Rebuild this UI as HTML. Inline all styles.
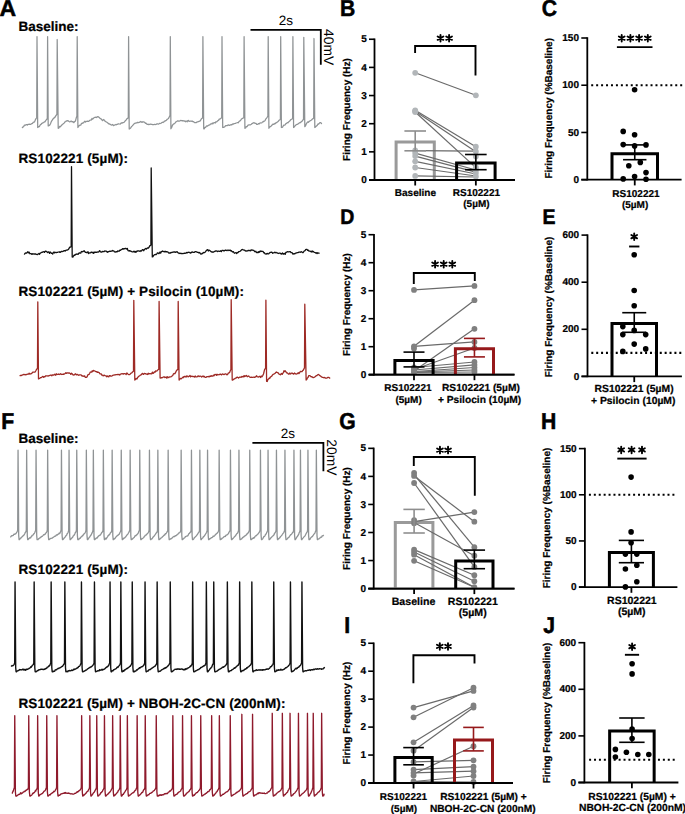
<!DOCTYPE html>
<html><head><meta charset="utf-8"><style>
html,body{margin:0;padding:0;background:#fff;}
svg{display:block;font-family:"Liberation Sans", sans-serif;text-rendering:geometricPrecision;}
</style></head><body>
<svg width="685" height="814" viewBox="0 0 685 814">
<rect width="685" height="814" fill="#fff"/>
<text transform="translate(-0.4 15.5) scale(1.0 1)" x="0" y="0" font-size="23.0" font-weight="bold" fill="#000" stroke="#000" stroke-width="0.55">A</text>
<text transform="translate(340.05 15.9) scale(0.92 1)" x="0" y="0" font-size="23.0" font-weight="bold" fill="#000" stroke="#000" stroke-width="0.55">B</text>
<text transform="translate(541.7 15.8) scale(0.92 1)" x="0" y="0" font-size="23.0" font-weight="bold" fill="#000" stroke="#000" stroke-width="0.55">C</text>
<text transform="translate(340.37 223.8) scale(0.92 1)" x="0" y="0" font-size="21.2" font-weight="bold" fill="#000" stroke="#000" stroke-width="0.55">D</text>
<text transform="translate(542.47 223.8) scale(0.92 1)" x="0" y="0" font-size="21.2" font-weight="bold" fill="#000" stroke="#000" stroke-width="0.55">E</text>
<text transform="translate(1.35 428.6) scale(0.92 1)" x="0" y="0" font-size="23.0" font-weight="bold" fill="#000" stroke="#000" stroke-width="0.55">F</text>
<text transform="translate(339.2 428.6) scale(0.92 1)" x="0" y="0" font-size="23.0" font-weight="bold" fill="#000" stroke="#000" stroke-width="0.55">G</text>
<text transform="translate(541.05 428.6) scale(0.92 1)" x="0" y="0" font-size="23.0" font-weight="bold" fill="#000" stroke="#000" stroke-width="0.55">H</text>
<text transform="translate(344.15 633) scale(0.92 1)" x="0" y="0" font-size="23.0" font-weight="bold" fill="#000" stroke="#000" stroke-width="0.55">I</text>
<text transform="translate(543.35 633.4) scale(0.92 1)" x="0" y="0" font-size="23.0" font-weight="bold" fill="#000" stroke="#000" stroke-width="0.55">J</text>
<text x="18.5" y="31.1" font-size="13.5" font-weight="bold" text-anchor="start" fill="#000" stroke="#000" stroke-width="0.22">Baseline:</text>
<text x="18.5" y="162.6" font-size="13.5" font-weight="bold" text-anchor="start" fill="#000" stroke="#000" stroke-width="0.22" textLength="109.4">RS102221 (5µM):</text>
<text x="18.5" y="296.4" font-size="13.5" font-weight="bold" text-anchor="start" fill="#000" stroke="#000" stroke-width="0.22" textLength="225.4">RS102221 (5µM) + Psilocin (10µM):</text>
<text x="18.5" y="442.8" font-size="13.5" font-weight="bold" text-anchor="start" fill="#000" stroke="#000" stroke-width="0.22">Baseline:</text>
<text x="18.5" y="574.1" font-size="13.5" font-weight="bold" text-anchor="start" fill="#000" stroke="#000" stroke-width="0.22" textLength="109.4">RS102221 (5µM):</text>
<text x="18.5" y="707.9" font-size="13.5" font-weight="bold" text-anchor="start" fill="#000" stroke="#000" stroke-width="0.22" textLength="266.9">RS102221 (5µM) + NBOH-2C-CN (200nM):</text>
<path d="M250.5 29.9 H320.8 V64.8" fill="none" stroke="#000" stroke-width="1.8"/>
<text x="286" y="24.6" font-size="13.5" font-weight="normal" text-anchor="middle" fill="#000">2s</text>
<text x="324" y="47.1" font-size="13.8" font-weight="normal" text-anchor="middle" fill="#000" transform="rotate(90 324 47.1)">40mV</text>
<path d="M252.4 442.8 H323.4 V471.3" fill="none" stroke="#000" stroke-width="1.8"/>
<text x="288" y="438" font-size="13.5" font-weight="normal" text-anchor="middle" fill="#000">2s</text>
<text x="326.6" y="457.4" font-size="13.8" font-weight="normal" text-anchor="middle" fill="#000" transform="rotate(90 326.6 457.4)">20mV</text>
<path d="M22.4 127.5 L23 126.93 L23.6 126.68 L24.2 125.42 L24.8 125.1 L25.44 125.24 L26.08 124.7 L26.72 124.54 L27.36 125.03 L28 124.3 L28.64 124.29 L29.28 124.17 L29.92 124.34 L30.56 124.4 L31.2 124 L31.86 123.57 L32.52 123.34 L33.18 122.45 L33.84 122.21 L34.5 121.9 L35.25 120.12 L36 118.6 L36.7 117.8 L37 36.6 L37.7 127.5 L38.5 126.7 L39.3 126.7 L39.9 125.45 L40.5 124.61 L41.1 124.23 L41.7 123.5 L42.34 123.13 L42.98 122.76 L43.62 122.56 L44.26 121.82 L44.9 121.9 L45.7 120.68 L46.5 119.5 L47.3 118.7 L47.6 36.6 L48.2 125.9 L48.95 125.57 L49.7 125.1 L50.5 123.73 L51.3 121.65 L52.1 120.3 L52.74 119.52 L53.38 118.38 L54.02 118.17 L54.66 117 L55.3 117 L55.9 115.57 L56.5 115 L56.9 114.2 L57.2 39.5 L58.2 128.3 L58.9 128.03 L59.6 126.44 L60.3 126.74 L61 125.9 L61.67 125.33 L62.33 124.47 L63 124.04 L63.67 123.39 L64.33 122.88 L65 121.9 L65.6 121.53 L66.2 121.12 L66.8 120.82 L67.4 120.7 L68.2 120.8 L69 121.49 L69.8 121.9 L70.6 121.26 L71.4 121.1 L72.2 121.95 L73 121.61 L73.8 122.7 L74.6 121.57 L75.4 121.1 L76.5 117 L76.9 116.2 L77.2 36.6 L77.9 127.5 L78.67 126.41 L79.43 125.27 L80.2 125.1 L80.87 125.14 L81.53 123.31 L82.2 123.42 L82.87 122.81 L83.53 122.93 L84.2 121.9 L84.89 121.19 L85.57 121.99 L86.26 121.34 L86.94 121.4 L87.63 121.13 L88.31 121.41 L89 121.1 L89.61 120.35 L90.22 120.25 L90.84 119.97 L91.45 120 L92.06 118.32 L92.68 119.08 L93.29 118.5 L93.9 117.8 L94.57 117.45 L95.23 117.49 L95.9 117.06 L96.57 117.49 L97.23 116.86 L97.9 116.6 L98.57 117.07 L99.23 117.6 L99.9 118.14 L100.57 118.68 L101.23 119 L101.9 119.8 L102.54 120.68 L103.18 119.75 L103.82 119.5 L104.46 120.8 L105.1 121.1 L105.7 121.46 L106.3 122.01 L106.9 122.24 L107.5 122.66 L108.1 123.2 L108.7 123.79 L109.3 123.77 L109.9 124.3 L110.59 124.3 L111.27 125.11 L111.96 124.8 L112.64 124.46 L113.33 125.57 L114.01 125.22 L114.7 125.1 L115.31 124.79 L115.92 124.47 L116.54 124.78 L117.15 124.3 L117.76 124.1 L118.38 123.89 L118.99 123.99 L119.6 124 L120.2 124.07 L120.8 123.34 L121.4 122.78 L122 123.15 L122.6 122.71 L123.2 122.68 L123.8 122.52 L124.4 121.9 L125 121.17 L125.6 120.5 L126.2 119.85 L126.8 118.84 L127.4 118.5 L128.3 117.7 L128.6 36.6 L129.2 129.1 L129.93 128.5 L130.67 127.91 L131.4 126.7 L132.04 126.11 L132.68 125.35 L133.32 124.7 L133.96 123.91 L134.6 123.5 L135.21 123.11 L135.82 123.08 L136.44 122.8 L137.05 122.77 L137.66 122.28 L138.28 122.71 L138.89 122.46 L139.5 122.3 L140.17 121.89 L140.83 121.48 L141.5 122.1 L142.17 122.36 L142.83 121.75 L143.5 121.9 L144.17 122.16 L144.83 122.53 L145.5 123.3 L146.17 123.23 L146.83 124.2 L147.5 124.3 L148.14 124.24 L148.78 124.64 L149.42 124.4 L150.06 124.35 L150.7 124.01 L151.34 124.27 L151.98 124.43 L152.62 124.74 L153.26 124.64 L153.9 124.6 L154.54 124.28 L155.18 124.5 L155.82 124.57 L156.46 124.12 L157.1 123.92 L157.74 123.82 L158.38 124.07 L159.02 123.88 L159.66 123.33 L160.3 123.5 L160.99 123.27 L161.67 122.67 L162.36 122.25 L163.04 122.5 L163.73 122.03 L164.41 121.23 L165.1 121.1 L165.76 120.62 L166.42 120.25 L167.08 119.41 L167.74 119.06 L168.4 118.6 L169.6 116.2 L170 115.4 L170.3 36.6 L170.9 128.8 L171.67 127.5 L172.43 125.26 L173.2 124.3 L173.87 123.86 L174.53 123.45 L175.2 122.85 L175.87 121.76 L176.53 121.73 L177.2 121.1 L177.87 120.76 L178.53 121.1 L179.2 121.03 L179.87 120.83 L180.53 120.45 L181.2 120.6 L181.8 120.49 L182.4 120.98 L183 120.52 L183.6 121 L184.2 121.07 L184.8 120.89 L185.4 121.76 L186 121.1 L186.6 121.12 L187.2 121.74 L187.8 120.5 L188.4 120.43 L189 121.39 L189.6 121.29 L190.2 121.01 L190.8 121.1 L191.41 121.28 L192.03 120.93 L192.64 121.51 L193.25 121.59 L193.86 122.03 L194.47 122.57 L195.09 122.52 L195.7 122.7 L196.37 122.54 L197.03 121.96 L197.7 121.77 L198.37 121.67 L199.03 121.28 L199.7 121.1 L200.4 120.65 L201.1 119.17 L201.8 118.6 L202.6 117.8 L202.9 36.6 L203.7 128.8 L204.34 128.79 L204.98 127.35 L205.62 127.38 L206.26 126.25 L206.9 125.9 L207.59 126.11 L208.27 125.37 L208.96 125.16 L209.64 124.98 L210.33 124.28 L211.01 123.87 L211.7 123.9 L212.3 123.04 L212.9 123.77 L213.5 122.94 L214.1 122.72 L214.7 122.64 L215.3 123 L215.9 121.63 L216.5 121.9 L217.18 121.42 L217.87 120.68 L218.55 120.41 L219.23 119.16 L219.92 119.03 L220.6 118.6 L221.7 117.8 L222 36.6 L222.7 127.5 L223.38 127.35 L224.05 127.17 L224.72 126.78 L225.4 125.9 L226.06 125.53 L226.71 125.69 L227.37 125.52 L228.03 125.03 L228.69 124.9 L229.34 125.44 L230 125.1 L230.6 124.97 L231.2 124.66 L231.8 124.86 L232.4 124 L233 124.26 L233.6 123.9 L234.2 123.68 L234.8 123.5 L235.47 123.38 L236.13 123.02 L236.8 122.78 L237.47 122.51 L238.13 122.75 L238.8 121.9 L239.44 121.15 L240.08 120.88 L240.72 120.1 L241.36 119.16 L242 118.6 L243.8 117.8 L244.1 36.6 L244.9 128.3 L245.6 127.86 L246.3 126.69 L247 126.62 L247.7 125.6 L248.3 125.09 L248.9 124.93 L249.5 124.91 L250.1 124.8 L250.7 124.56 L251.3 124.29 L251.9 123.7 L252.5 123.5 L253.3 122.81 L254.1 122.7 L254.74 123.18 L255.38 123.43 L256.02 123.37 L256.66 124.27 L257.3 124.3 L257.97 124.14 L258.63 123.58 L259.3 123.78 L259.97 123.04 L260.63 122.95 L261.3 123 L261.94 122.74 L262.58 121.77 L263.22 121.87 L263.86 121.07 L264.5 121.1 L265.2 120.3 L265.9 118.83 L266.6 118.08 L267.3 117 L267.9 116.2 L268.2 36.6 L268.9 128.3 L269.62 127.05 L270.35 126.6 L271.07 126.18 L271.8 125.1 L272.4 124.94 L273 123.95 L273.6 124.48 L274.2 124.17 L274.8 123.49 L275.4 123.73 L276 122.68 L276.6 122.7 L277.4 121.87 L278.2 121.43 L279 120.3 L280.4 119.5 L280.7 36.6 L281.4 127.5 L282.04 127.41 L282.68 126.92 L283.32 125.73 L283.96 125.05 L284.6 125.1 L285.27 124.68 L285.93 123.6 L286.6 123.46 L287.27 122.58 L287.93 122.75 L288.6 121.9 L289.4 121.34 L290.2 120.47 L291 119.5 L292.6 118.7 L292.9 36.6 L293.6 127.5 L294.33 126.71 L295.07 125.91 L295.8 125.1 L296.48 124.61 L297.17 124.42 L297.85 123.97 L298.53 123.64 L299.22 122.97 L299.9 122.7 L300.57 122.67 L301.25 121.58 L301.93 121.32 L302.6 120.3 L303.5 119.5 L303.8 37.3 L304.8 126.7 L305.57 125.77 L306.33 123.77 L307.1 122.7 L307.77 121.79 L308.43 122.28 L309.1 121.38 L309.77 121.12 L310.43 120.62 L311.1 120.3 L311.8 119.77 L312.5 118.81 L313.2 118.6 L313.7 117.8 L314 38.5 L314.8 127.5 L315.43 126.94 L316.07 126.29 L316.7 125.9 L317.34 125.26 L317.98 123.92 L318.62 124.23 L319.26 123.44 L319.9 122.7 L320.7 122.58 L321.5 123.5" fill="none" stroke="#8f9395" stroke-width="1.25" stroke-linejoin="round" stroke-linecap="round"/>
<path d="M24.5 254.1 L25.18 253.23 L25.85 252.84 L26.52 253.17 L27.2 252.5 L27.87 251.78 L28.53 252.84 L29.2 252.2 L29.87 253.74 L30.53 253.58 L31.2 253.7 L31.83 254.33 L32.47 253.68 L33.1 254.13 L33.73 253.94 L34.37 253.85 L35 254.29 L35.63 253.82 L36.27 254.27 L36.9 254.5 L37.57 254.5 L38.23 253.96 L38.9 253.49 L39.57 254.24 L40.23 253.11 L40.9 252.8 L41.5 252.37 L42.1 252.46 L42.7 251.99 L43.3 251.85 L43.9 251.66 L44.5 252.41 L45.1 251.41 L45.7 251.2 L46.34 251.47 L46.98 251.87 L47.62 252.61 L48.26 251.91 L48.9 251.95 L49.54 253.39 L50.18 252.02 L50.82 252.65 L51.46 253.27 L52.1 253.2 L52.74 253.99 L53.38 252.58 L54.02 251.87 L54.66 252.98 L55.3 252.39 L55.94 252.33 L56.58 252.54 L57.22 252.33 L57.86 252.24 L58.5 252 L59.11 251.73 L59.73 252.32 L60.34 252.3 L60.95 251.61 L61.56 251.32 L62.17 251.69 L62.79 251.49 L63.4 251.2 L64 250.58 L64.6 250.62 L65.2 251.02 L65.8 250.36 L66.4 250.07 L67 250.08 L67.6 249.79 L68.2 249.6 L68.9 248.8 L69.6 247.23 L70.3 247.2 L71.2 246.4 L71.5 166.6 L72.2 256.9 L72.84 257.12 L73.48 256.02 L74.12 255.11 L74.76 255.37 L75.4 254.5 L76.07 254.34 L76.73 253.94 L77.4 254.07 L78.07 254.27 L78.73 253.3 L79.4 252.8 L80.07 253.17 L80.73 253.13 L81.4 251.59 L82.07 251.52 L82.73 251.78 L83.4 251.2 L84.07 250.73 L84.73 251.53 L85.4 252.37 L86.07 252.48 L86.73 252.52 L87.4 252.5 L88.01 251.78 L88.62 253.52 L89.24 252.83 L89.85 252.96 L90.46 252.89 L91.08 252.04 L91.69 252.19 L92.3 252.8 L92.99 252.2 L93.67 253.34 L94.36 252.12 L95.04 252.25 L95.73 252.13 L96.41 252.34 L97.1 252 L97.74 252.16 L98.38 252.03 L99.02 251.38 L99.66 250.58 L100.3 251.87 L100.94 251.87 L101.58 252.21 L102.22 251.64 L102.86 251.4 L103.5 251.6 L104.14 251.72 L104.78 250.9 L105.42 251.06 L106.06 251.04 L106.7 251.52 L107.34 252.2 L107.98 251.63 L108.62 251.74 L109.26 251.34 L109.9 251.2 L110.55 251.35 L111.2 251.1 L111.85 251.21 L112.5 250.39 L113.15 250.92 L113.8 250.93 L114.45 251.81 L115.1 251.79 L115.75 252.02 L116.4 251.6 L117.09 251.94 L117.77 250.91 L118.46 251.17 L119.14 251.24 L119.83 250.17 L120.51 250.32 L121.2 249.6 L121.89 249.36 L122.57 248.61 L123.26 249.13 L123.94 248.59 L124.63 248.79 L125.31 248.39 L126 248.4 L126.67 248.99 L127.33 248.48 L128 250.63 L128.67 250.81 L129.33 250.59 L130 251.2 L130.66 250.95 L131.31 251.43 L131.97 251.81 L132.63 251.83 L133.29 251.93 L133.94 251.1 L134.6 252 L135.21 251.45 L135.82 252.34 L136.44 251.8 L137.05 250.99 L137.66 251.15 L138.28 250.82 L138.89 250.89 L139.5 251.2 L140.1 251.47 L140.7 250.71 L141.3 251.05 L141.9 250.48 L142.5 249.59 L143.1 249.74 L143.7 250.73 L144.3 249.6 L144.99 248.95 L145.67 248.49 L146.36 249.07 L147.04 248.27 L147.73 247.88 L148.41 248.14 L149.1 247.2 L149.75 245.68 L150.4 245.6 L150.9 244.8 L151.2 168 L152.3 256.9 L152.94 256.59 L153.58 255.51 L154.22 254.89 L154.86 254.65 L155.5 254.5 L156.14 254.68 L156.78 253.86 L157.42 252.88 L158.06 252.89 L158.7 253.67 L159.34 253.18 L159.98 252.02 L160.62 253.17 L161.26 251.74 L161.9 251.6 L162.54 251.03 L163.18 251.38 L163.82 251.74 L164.46 251.94 L165.1 251.2 L165.78 251.95 L166.47 251.69 L167.15 251.97 L167.83 251.94 L168.52 252.84 L169.2 253.2 L169.8 252.86 L170.4 253.1 L171 252.38 L171.6 252.59 L172.2 252.34 L172.8 252.11 L173.4 252.02 L174 251.98 L174.6 251.82 L175.2 252.43 L175.8 252.14 L176.4 252 L177.09 251.7 L177.77 252.7 L178.46 252.85 L179.14 253.57 L179.83 253.13 L180.51 253.37 L181.2 253.7 L181.82 253.33 L182.43 253.57 L183.05 253.62 L183.66 253.4 L184.28 253.13 L184.89 253.38 L185.51 253.09 L186.12 253.06 L186.74 252.49 L187.35 252.86 L187.97 252.28 L188.58 252.25 L189.2 252.5 L189.85 252.48 L190.5 253.18 L191.15 252.64 L191.8 252.14 L192.45 251.98 L193.1 252.36 L193.75 252.44 L194.4 252.28 L195.05 251.61 L195.7 251.6 L196.32 251.95 L196.94 252.02 L197.57 252.32 L198.19 252.36 L198.81 252.89 L199.43 252.39 L200.06 253.05 L200.68 254 L201.3 254.1 L201.97 253.37 L202.63 253.62 L203.3 252.52 L203.97 252.55 L204.63 252.51 L205.3 252 L206.1 250.78 L206.9 250.11 L207.7 249.6 L208.37 251.01 L209.03 250.12 L209.7 250.51 L210.37 250.97 L211.03 251.61 L211.7 252 L212.34 251.91 L212.98 252.24 L213.62 252.08 L214.26 251.51 L214.9 251.45 L215.54 250.94 L216.18 250.83 L216.82 251.06 L217.46 251.58 L218.1 251.2 L218.75 251.17 L219.4 251.37 L220.05 251.35 L220.7 250.81 L221.35 251.66 L222 250.51 L222.65 250.38 L223.3 250.38 L223.95 250.95 L224.6 250.4 L225.2 250.3 L225.8 250.01 L226.4 250.44 L227 250.69 L227.6 250.13 L228.2 250.03 L228.8 250.53 L229.4 250.45 L230 250 L230.67 250.85 L231.33 250.62 L232 251.52 L232.67 252.01 L233.33 251.6 L234 252.8 L234.67 253.24 L235.33 252.74 L236 252.51 L236.67 253.53 L237.33 252.61 L238 252.5 L238.67 251.72 L239.33 251.51 L240 251.28 L240.67 250.9 L241.33 250.06 L242 249.6 L242.68 249.51 L243.37 249.85 L244.05 250.07 L244.73 250.24 L245.42 250.93 L246.1 251.2 L246.74 250.88 L247.38 250.98 L248.02 250.5 L248.66 250.37 L249.3 250.52 L249.94 250.34 L250.58 250.83 L251.22 249.87 L251.86 250.2 L252.5 250 L253.17 250.4 L253.83 250.3 L254.5 251.55 L255.17 251.74 L255.83 251.23 L256.5 252.5 L257.1 252.58 L257.7 252.56 L258.3 251.69 L258.9 252.54 L259.5 251.75 L260.1 251.05 L260.7 251.59 L261.3 251.2 L261.9 251.42 L262.5 251.38 L263.1 251.41 L263.7 252.75 L264.3 252.71 L264.9 253.64 L265.5 253.9 L266.1 254.1 L266.77 253.62 L267.43 253.35 L268.1 254.02 L268.77 253.73 L269.43 253.07 L270.1 252.5 L270.75 252.38 L271.4 252.16 L272.05 252.43 L272.7 253.3 L273.35 252.84 L274 252.56 L274.65 252.21 L275.3 252.81 L275.95 252.41 L276.6 252.8 L277.25 252.89 L277.91 253.27 L278.56 253.48 L279.22 253.18 L279.87 253.07 L280.53 253.38 L281.18 254.11 L281.84 253.61 L282.49 252.97 L283.15 254.25 L283.8 253.7 L284.47 253.45 L285.13 254.42 L285.8 252.46 L286.47 252.26 L287.13 251.83 L287.8 251.6 L288.44 251.96 L289.08 251.78 L289.72 251.63 L290.36 251.66 L291 252.6 L291.64 252.65 L292.28 252.83 L292.92 254.14 L293.56 253.81 L294.2 253.7 L294.81 253.93 L295.43 253.07 L296.04 253.18 L296.65 252.76 L297.26 252.55 L297.88 252.73 L298.49 252.46 L299.1 252 L299.77 252.21 L300.43 252.23 L301.1 251.66 L301.77 252.03 L302.43 252.57 L303.1 252.5 L303.74 251.71 L304.38 250.9 L305.02 250.72 L305.66 249.57 L306.3 249.3 L306.97 249.34 L307.63 250.29 L308.3 250.1 L308.97 251.15 L309.63 251.1 L310.3 251.2 L310.9 251.69 L311.5 251.98 L312.1 250.81 L312.7 251.82 L313.3 251.49 L313.9 251.99 L314.5 252.3 L315.1 252.5 L315.77 253.12 L316.43 252.72 L317.1 253.52 L317.77 252.75 L318.43 253.06 L319.1 253.2" fill="none" stroke="#111" stroke-width="1.3" stroke-linejoin="round" stroke-linecap="round"/>
<path d="M20.1 375.7 L20.74 375.43 L21.39 375.56 L22.03 375.1 L22.67 374.89 L23.31 374.47 L23.96 374.59 L24.6 374.5 L25.25 374.85 L25.9 374.49 L26.55 374.64 L27.2 374.24 L27.85 374.21 L28.5 374.03 L29.15 373.2 L29.8 374.12 L30.45 373.89 L31.1 373.6 L31.77 373.53 L32.43 372.39 L33.1 372.1 L33.77 372.18 L34.43 372.08 L35.1 372 L35.85 370.72 L36.6 369.2 L37.5 368.4 L37.8 301.8 L38.5 378.9 L39.13 378.53 L39.77 378.41 L40.4 377.59 L41.03 377.62 L41.67 377.31 L42.3 376.8 L42.94 376.43 L43.58 377.27 L44.22 376.69 L44.86 376.84 L45.5 376 L46.14 375.84 L46.78 375.89 L47.42 375.88 L48.06 376.06 L48.7 375.7 L49.32 375.71 L49.95 375.34 L50.57 375.04 L51.19 375.12 L51.82 375.73 L52.44 374.82 L53.06 375.15 L53.68 375.13 L54.31 374.27 L54.93 374.8 L55.55 375.21 L56.18 373.79 L56.8 374.5 L57.44 374.32 L58.08 374.36 L58.72 374.02 L59.36 374.5 L60 374.23 L60.64 373.61 L61.28 374.48 L61.92 374.37 L62.56 374.43 L63.2 374 L63.87 374.39 L64.53 373.78 L65.2 373.5 L65.87 372.75 L66.53 373.33 L67.2 372.9 L67.8 372.81 L68.4 373.04 L69 372.87 L69.6 373.15 L70.2 373.48 L70.8 374.37 L71.4 373.2 L72 373.58 L72.6 374.42 L73.2 375.06 L73.8 374.87 L74.4 374.8 L75.04 374.04 L75.68 373.79 L76.32 374.94 L76.96 374.51 L77.6 374.35 L78.24 375.19 L78.88 375.24 L79.52 374.86 L80.16 374.9 L80.8 374.8 L81.43 375.25 L82.07 375.99 L82.7 375.88 L83.33 376.12 L83.97 376.41 L84.6 375.84 L85.23 377.26 L85.87 377.4 L86.5 377.3 L87.14 376.69 L87.78 374.87 L88.42 374.59 L89.06 374.36 L89.7 373.2 L90.32 372.01 L90.93 372.19 L91.55 372.21 L92.17 370.81 L92.78 371.51 L93.4 370.4 L94.04 370.87 L94.68 370.84 L95.31 371.28 L95.95 371.66 L96.59 371.7 L97.22 372.36 L97.86 371.89 L98.5 372.4 L99.17 372.7 L99.83 373.75 L100.5 373.81 L101.17 373.91 L101.83 375.11 L102.5 375.2 L103.12 375.93 L103.74 375.31 L104.37 375.08 L104.99 375.72 L105.61 375.86 L106.23 375.95 L106.86 376.77 L107.48 375.94 L108.1 376.5 L108.75 376.83 L109.4 375.65 L110.05 375.68 L110.7 376.07 L111.35 376.1 L112 375.82 L112.65 375.45 L113.3 375.2 L113.95 375.03 L114.6 374.8 L115.24 374.95 L115.88 374.57 L116.52 374.67 L117.16 374.71 L117.8 374.4 L118.44 374.63 L119.08 374.47 L119.72 374.96 L120.36 374.21 L121 374 L121.63 373.76 L122.27 373.72 L122.9 373.79 L123.53 374.1 L124.17 373.53 L124.8 373.6 L125.49 373.88 L126.17 374.59 L126.86 372.96 L127.54 373.66 L128.23 374.34 L128.91 374.53 L129.6 374.5 L130.32 373.97 L131.05 373.08 L131.78 372.89 L132.5 372 L133.5 371.2 L133.8 300.3 L134.8 380 L135.53 379.44 L136.25 378.44 L136.97 378.95 L137.7 377.3 L138.34 376.94 L138.98 376.08 L139.62 375.76 L140.26 375.21 L140.9 374.8 L141.57 374.57 L142.23 373.31 L142.9 374.01 L143.57 374.4 L144.23 373.33 L144.9 373.6 L145.57 373.64 L146.23 374.11 L146.9 374.14 L147.57 374.46 L148.23 373.25 L148.9 374 L149.59 373.7 L150.27 373.55 L150.96 373.78 L151.64 373.81 L152.33 372.14 L153.01 373.49 L153.7 372.9 L154.37 371.84 L155.03 372.21 L155.7 370.85 L156.37 371.04 L157.03 370.96 L157.7 370 L158.8 369.2 L159.1 301.5 L160.1 378.1 L160.78 377.82 L161.47 377.74 L162.15 377.77 L162.83 377.29 L163.52 376.98 L164.2 376.8 L164.87 377.5 L165.53 377.39 L166.2 376.93 L166.87 378.23 L167.53 376.76 L168.2 377.3 L168.84 377.51 L169.48 376.87 L170.12 376.87 L170.76 376.94 L171.4 376.5 L172.07 375.99 L172.73 375.56 L173.4 374.09 L174.07 373.5 L174.73 373.75 L175.4 372.9 L176.2 371.06 L177 370 L177.9 369.2 L178.2 301.5 L179.1 380 L179.8 379.05 L180.5 378.33 L181.2 378.89 L181.9 378.14 L182.6 377.3 L183.2 377.74 L183.8 376.62 L184.4 376.85 L185 376.24 L185.6 376.86 L186.2 377.04 L186.8 375.89 L187.4 376.1 L188.05 376.76 L188.7 376.58 L189.35 376.15 L190 375.47 L190.65 376.86 L191.3 376.3 L191.95 376.14 L192.6 376.58 L193.25 376.62 L193.9 376.5 L194.54 377.06 L195.18 376.01 L195.82 376.83 L196.46 376.93 L197.1 376.88 L197.74 376.19 L198.38 375.92 L199.02 376.59 L199.66 376.19 L200.3 376.1 L200.99 376.32 L201.67 377.01 L202.36 376.51 L203.04 375.87 L203.73 376.8 L204.41 376.39 L205.1 377.3 L205.74 377.47 L206.38 377.11 L207.02 376.58 L207.66 376.66 L208.3 376.83 L208.94 376.37 L209.58 376.71 L210.22 376 L210.86 376.28 L211.5 375.7 L212.15 376.21 L212.8 376.16 L213.45 375.16 L214.1 375.69 L214.75 374.5 L215.4 374.73 L216.05 374.28 L216.7 375.41 L217.35 374.4 L218 374.8 L218.6 374.69 L219.2 374.52 L219.8 374.49 L220.4 374.16 L221 374.39 L221.6 374.92 L222.2 374.12 L222.8 374 L223.49 374.28 L224.17 374.54 L224.86 374.14 L225.54 373.78 L226.23 374.13 L226.91 374.86 L227.6 374.5 L228.27 373.14 L228.93 372.86 L229.6 372.4 L230.6 370 L230.9 369.2 L231.2 299.7 L232.2 380 L232.84 380.02 L233.48 379.56 L234.12 378.86 L234.76 378.8 L235.4 378.1 L236.03 378.08 L236.67 377.45 L237.3 377.21 L237.93 377.49 L238.57 378.02 L239.2 377.34 L239.83 377.12 L240.47 377.08 L241.1 377.3 L241.7 376.54 L242.3 376.95 L242.9 376.38 L243.5 376.85 L244.1 375.61 L244.7 376.53 L245.3 375.99 L245.9 376.1 L246.59 375.49 L247.27 376.73 L247.96 376.5 L248.64 375.89 L249.33 376.61 L250.01 377.24 L250.7 377.3 L251.34 377.04 L251.98 377.45 L252.62 377.36 L253.26 377.25 L253.9 377.03 L254.54 377.35 L255.18 377 L255.82 376.84 L256.46 375.75 L257.1 376.5 L257.79 376.9 L258.47 377.11 L259.16 376.51 L259.84 376.48 L260.53 377.49 L261.21 376.05 L261.9 376.8 L262.7 375.59 L263.5 374 L264.7 369.2 L265.6 368.4 L265.9 300.2 L266.6 381.3 L267.25 381.47 L267.9 379.33 L268.55 379.18 L269.2 378.1 L269.84 378.27 L270.48 376.89 L271.12 376.58 L271.76 376.14 L272.4 375.2 L273.07 374.3 L273.73 374.1 L274.4 373.72 L275.07 373.4 L275.73 372.52 L276.4 372 L277.07 372.39 L277.73 372.53 L278.4 373.26 L279.07 374.22 L279.73 374.37 L280.4 374.8 L281 373.96 L281.6 373.46 L282.2 374.37 L282.8 373.26 L283.4 372.55 L284 370.76 L284.6 371.55 L285.2 370.8 L285.84 371.63 L286.48 372.75 L287.12 372.89 L287.76 373.33 L288.4 374 L289.07 374.08 L289.73 372.96 L290.4 374.01 L291.07 373.6 L291.73 373.05 L292.4 373.2 L293.08 373.86 L293.77 374.19 L294.45 373.04 L295.13 373.47 L295.82 373.98 L296.5 374 L297.1 373.77 L297.7 373.24 L298.3 372.71 L298.9 373.65 L299.5 372.91 L300.1 371.72 L300.7 371.36 L301.3 371.6 L301.98 371.56 L302.65 370.55 L303.32 370.15 L304 368.7 L304.5 367.9 L304.8 304.2 L306.1 380 L306.74 379.46 L307.38 377.93 L308.02 377.52 L308.66 375.7 L309.3 375.7 L309.97 375.73 L310.63 376.34 L311.3 376.91 L311.97 376.74 L312.63 377.32 L313.3 377.7 L313.9 377.48 L314.5 377.05 L315.1 376.76 L315.7 376.18 L316.3 375.57 L316.9 375.62 L317.5 374.92 L318.1 374.5 L318.78 374.64 L319.47 375.18 L320.15 375.9 L320.83 376.32 L321.52 376.9 L322.2 377.3 L322.84 377.46 L323.48 377.69 L324.12 377.73 L324.76 377.44 L325.4 378.1 L326.04 378.11 L326.68 378.2 L327.32 377.79 L327.96 377.38 L328.6 377.3 L329.7 378.1" fill="none" stroke="#9e2a25" stroke-width="1.3" stroke-linejoin="round" stroke-linecap="round"/>
<path d="M10.2 537 L10.7 536.94 L11.2 536.24 L11.7 535.73 L12.2 535.73 L12.7 535.55 L13.2 535.39 L13.7 534.49 L14.2 534.15 L14.7 534.31 L15.2 533.9 L15.7 533.77 L16.2 533.18 L16.7 532.33 L17.2 531.47 L17.7 530.3 L18.05 450.2 L18.7 535.6 L19.1 539.6 L19.5 539.6 L20.02 538.84 L20.55 538.19 L21.07 537.94 L21.59 537.38 L22.12 536.7 L22.64 536.19 L23.16 535.7 L23.68 535.2 L24.21 534.67 L24.73 533.76 L25.25 532.43 L25.78 532 L26.3 530.3 L26.65 450.2 L27.3 535.6 L27.7 539.6 L28.1 539.6 L28.61 538.74 L29.11 538.63 L29.62 537.94 L30.13 537.71 L30.63 537.99 L31.14 536.66 L31.65 536.39 L32.15 535.35 L32.66 535.1 L33.17 534.81 L33.67 534.06 L34.18 533.55 L34.69 532.74 L35.19 531.47 L35.7 530.3 L36.05 450.2 L36.7 535.6 L37.1 539.6 L37.5 539.6 L38.02 539.68 L38.53 538.71 L39.05 538.62 L39.56 538.06 L40.08 537.92 L40.59 537.14 L41.11 537.16 L41.63 536.49 L42.14 536.45 L42.66 535.91 L43.17 535.4 L43.69 534.77 L44.21 534.76 L44.72 534.26 L45.24 534.1 L45.75 533.07 L46.27 532.66 L46.78 531.76 L47.3 530.3 L47.65 450.2 L48.3 535.6 L48.7 539.6 L49.1 539.6 L49.6 539.34 L50.1 538.84 L50.6 538.43 L51.1 538.28 L51.6 538.23 L52.1 538.15 L52.6 537.72 L53.1 537.43 L53.6 537.06 L54.1 536.73 L54.6 536.3 L55.1 536.14 L55.6 536.09 L56.1 535.26 L56.6 534.86 L57.1 535.21 L57.6 534.47 L58.1 534.32 L58.6 533.95 L59.1 533.07 L59.6 533.51 L60.1 532.78 L60.6 531.58 L61.1 530.3 L61.45 450.2 L62.1 535.6 L62.5 539.6 L62.9 539.6 L63.43 539.12 L63.95 538.24 L64.48 537.69 L65.01 537.21 L65.54 536.42 L66.06 535.56 L66.59 535.15 L67.12 533.82 L67.65 533.29 L68.17 532.21 L68.7 530.3 L69.05 450.2 L69.7 535.6 L70.1 539.6 L70.5 539.6 L71.04 538.86 L71.57 538.33 L72.11 537.73 L72.65 537.31 L73.18 536 L73.72 535.55 L74.25 534.98 L74.79 533.98 L75.33 532.51 L75.86 532.14 L76.4 530.3 L76.75 450.2 L77.4 535.6 L77.8 539.6 L78.2 539.6 L78.72 539.69 L79.24 538.52 L79.76 538.19 L80.28 538.27 L80.8 537.32 L81.32 536.7 L81.84 536.57 L82.36 535.67 L82.88 535.64 L83.4 534.48 L83.92 533.98 L84.44 533.66 L84.96 533.08 L85.48 531.91 L86 530.3 L86.35 450.2 L87 535.6 L87.4 539.6 L87.8 539.6 L88.32 538.94 L88.84 537.98 L89.36 537.26 L89.88 536.79 L90.4 535.79 L90.92 535.27 L91.44 534.23 L91.96 533.13 L92.48 532.02 L93 530.3 L93.35 450.2 L94 535.6 L94.4 539.6 L94.8 539.6 L95.31 539.02 L95.83 538.63 L96.34 537.89 L96.85 538.18 L97.36 537.68 L97.88 536.81 L98.39 536.28 L98.9 535.63 L99.41 535.51 L99.92 535.05 L100.44 535.05 L100.95 534.03 L101.46 533.18 L101.97 532.05 L102.49 532.05 L103 530.3 L103.35 450.2 L104 535.6 L104.4 539.6 L104.8 539.6 L105.3 539.13 L105.8 538.15 L106.3 538.9 L106.8 537.79 L107.3 537.13 L107.8 536.41 L108.3 535.39 L108.8 535.35 L109.3 534.43 L109.8 534.37 L110.3 533.02 L110.8 532.54 L111.3 532.06 L111.8 530.3 L112.15 450.2 L112.8 535.6 L113.2 539.6 L113.6 539.6 L114.12 538.69 L114.64 538.78 L115.16 538.25 L115.69 537.26 L116.21 536.81 L116.73 536.29 L117.25 535.63 L117.77 535.22 L118.29 535.14 L118.81 534.41 L119.34 534.1 L119.86 532.78 L120.38 531.75 L120.9 530.3 L121.25 450.2 L121.9 535.6 L122.3 539.6 L122.7 539.6 L123.21 538.83 L123.71 538.11 L124.22 538.21 L124.73 537.87 L125.24 537.2 L125.74 536.79 L126.25 535.99 L126.76 535.2 L127.26 534.84 L127.77 534.13 L128.28 533.29 L128.79 532.36 L129.29 531.39 L129.8 530.3 L130.15 450.2 L130.8 535.6 L131.2 539.6 L131.6 539.6 L132.12 538.99 L132.64 538.98 L133.16 538.18 L133.68 537.8 L134.2 537.47 L134.72 536.47 L135.24 535.69 L135.76 535.87 L136.28 535.01 L136.8 534.98 L137.32 534.18 L137.84 533.73 L138.36 532.92 L138.88 531.22 L139.4 530.3 L139.75 450.2 L140.4 535.6 L140.8 539.6 L141.2 539.6 L141.73 538.92 L142.25 538.52 L142.78 538.33 L143.31 537.87 L143.83 537.42 L144.36 536.26 L144.89 536.04 L145.41 535.09 L145.94 535.16 L146.47 534.81 L146.99 533.91 L147.52 533.54 L148.05 532.8 L148.57 532 L149.1 530.3 L149.45 450.2 L150.1 535.6 L150.5 539.6 L150.9 539.6 L151.41 538.85 L151.92 538.91 L152.42 538.18 L152.93 537.32 L153.44 536.84 L153.95 536.24 L154.45 535.68 L154.96 534.97 L155.47 534.3 L155.98 533.37 L156.48 532.7 L156.99 532.21 L157.5 530.3 L157.85 450.2 L158.5 535.6 L158.9 539.6 L159.3 539.6 L159.8 539.12 L160.3 538.76 L160.8 538.4 L161.3 537.72 L161.8 537.5 L162.3 537.08 L162.8 536.4 L163.3 535.96 L163.8 535.47 L164.3 535.01 L164.8 535.05 L165.3 533.77 L165.8 533.79 L166.3 533.13 L166.8 532.43 L167.3 531.68 L167.8 530.3 L168.15 450.2 L168.8 535.6 L169.2 539.6 L169.6 539.6 L170.11 539.23 L170.62 538.78 L171.13 538.57 L171.64 538.5 L172.15 537.84 L172.65 537.32 L173.16 536.96 L173.67 536.67 L174.18 536.27 L174.69 536.56 L175.2 536.04 L175.71 535.56 L176.22 535.64 L176.73 534.78 L177.24 534.79 L177.75 534.45 L178.25 533.49 L178.76 533.08 L179.27 532.77 L179.78 532.63 L180.29 531.9 L180.8 530.3 L181.15 450.2 L181.8 535.6 L182.2 539.6 L182.6 539.6 L183.13 538.84 L183.66 538.59 L184.19 538.09 L184.73 537.69 L185.26 536.86 L185.79 536.61 L186.32 536.09 L186.85 536.06 L187.38 536 L187.91 535.68 L188.44 534.42 L188.97 533.55 L189.51 533.29 L190.04 532.45 L190.57 532.22 L191.1 530.3 L191.45 450.2 L192.1 535.6 L192.5 539.6 L192.9 539.6 L193.41 539.27 L193.92 538.61 L194.42 537.51 L194.93 537.21 L195.44 536.72 L195.95 536.21 L196.45 535.66 L196.96 534.94 L197.47 534.44 L197.98 533.54 L198.48 532.64 L198.99 532.18 L199.5 530.3 L199.85 450.2 L200.5 535.6 L200.9 539.6 L201.3 539.6 L201.84 538.54 L202.37 538.23 L202.91 537.81 L203.45 536.61 L203.98 536.52 L204.52 535.45 L205.05 534.92 L205.59 533.99 L206.13 533.16 L206.66 532.24 L207.2 530.3 L207.55 450.2 L208.2 535.6 L208.6 539.6 L209 539.6 L209.52 539.02 L210.03 538.6 L210.55 538.63 L211.06 537.8 L211.58 537.59 L212.09 537.52 L212.61 537.21 L213.13 536.08 L213.64 536.27 L214.16 536.22 L214.67 535.66 L215.19 534.91 L215.71 534.41 L216.22 534.07 L216.74 533.4 L217.25 533.1 L217.77 532.47 L218.28 531.6 L218.8 530.3 L219.15 450.2 L219.8 535.6 L220.2 539.6 L220.6 539.6 L221.13 538.83 L221.66 539.05 L222.18 538.12 L222.71 537.87 L223.24 537.54 L223.77 537.08 L224.29 536.51 L224.82 536.29 L225.35 536.49 L225.88 535.38 L226.41 535.09 L226.93 534.98 L227.46 534.44 L227.99 533.97 L228.52 533.46 L229.04 532.08 L229.57 531.46 L230.1 530.3 L230.45 450.2 L231.1 535.6 L231.5 539.6 L231.9 539.6 L232.42 539.07 L232.93 538.59 L233.45 537.85 L233.96 537.36 L234.48 536.73 L234.99 536.27 L235.51 535.8 L236.02 534.94 L236.54 534.19 L237.05 533.48 L237.57 533.15 L238.08 532.13 L238.6 530.3 L238.95 450.2 L239.6 535.6 L240 539.6 L240.4 539.6 L240.9 539.44 L241.4 538.79 L241.9 538.55 L242.4 537.71 L242.9 537.52 L243.4 536.98 L243.9 536.94 L244.4 536.21 L244.9 535.92 L245.4 535.63 L245.9 535.45 L246.4 534.49 L246.9 534.01 L247.4 533.96 L247.9 532.93 L248.4 532.65 L248.9 531.49 L249.4 530.3 L249.75 450.2 L250.4 535.6 L250.8 539.6 L251.2 539.6 L251.72 539.35 L252.25 538.62 L252.77 538.09 L253.29 538.4 L253.82 537.63 L254.34 537.9 L254.86 536.69 L255.39 536.07 L255.91 535.75 L256.44 535.69 L256.96 534.83 L257.48 534.48 L258.01 534 L258.53 533.08 L259.05 532.65 L259.58 531.56 L260.1 530.3 L260.45 450.2 L261.1 535.6 L261.5 539.6 L261.9 539.6 L262.43 539.1 L262.95 538.29 L263.48 537.37 L264.01 536.43 L264.54 536.37 L265.06 535.52 L265.59 534.39 L266.12 534 L266.65 532.71 L267.17 531.92 L267.7 530.3 L268.05 450.2 L268.7 535.6 L269.1 539.6 L269.5 539.6 L270.01 539.09 L270.52 538.52 L271.02 537.63 L271.53 537.25 L272.04 536.65 L272.55 536.15 L273.05 535.69 L273.56 535.18 L274.07 534.8 L274.58 533.04 L275.08 532.96 L275.59 531.75 L276.1 530.3 L276.45 450.2 L277.1 535.6 L277.5 539.6 L277.9 539.6 L278.42 538.62 L278.93 538.58 L279.45 537.78 L279.96 537.6 L280.48 536.52 L280.99 536.18 L281.51 535.59 L282.02 535 L282.54 534.25 L283.05 533.24 L283.57 532.99 L284.08 532.06 L284.6 530.3 L284.95 450.2 L285.6 535.6 L286 539.6 L286.4 539.6 L286.91 539.13 L287.43 538.7 L287.94 537.99 L288.46 537.51 L288.97 537.34 L289.49 536.18 L290 535.79 L290.51 534.91 L291.03 534.65 L291.54 534.05 L292.06 533.33 L292.57 532.62 L293.09 532.22 L293.6 530.3 L293.95 450.2 L294.6 535.6 L295 539.6 L295.4 539.6 L295.92 538.73 L296.44 537.95 L296.97 536.7 L297.49 536.38 L298.01 535.17 L298.53 534.86 L299.06 533.07 L299.58 531.93 L300.1 530.3 L300.45 450.2 L301.1 535.6 L301.5 539.6 L301.9 539.6 L302.42 538.53 L302.94 538.25 L303.45 537.5 L303.97 536.77 L304.49 536.48 L305.01 535.77 L305.53 534.82 L306.05 533.78 L306.56 532.81 L307.08 531.98 L307.6 530.3 L307.95 450.2 L308.6 535.6 L309 539.6 L309.4 539.6 L309.91 539.64 L310.42 538.3 L310.92 537.64 L311.43 537.1 L311.94 536.73 L312.45 536.57 L312.95 535.62 L313.46 534.9 L313.97 533.98 L314.48 533.74 L314.98 532.85 L315.49 531.49 L316 530.3 L316.35 450.2 L317 535.6 L317.4 539.6 L317.8 539.6 L318.34 538.91 L318.87 538.92 L319.41 538.4 L319.95 537.85 L320.48 537.59 L321.02 537.09 L321.55 537.22 L322.09 535.97 L322.63 535.74 L323.16 535.74 L323.7 535" fill="none" stroke="#8f9395" stroke-width="1.3" stroke-linejoin="round"/>
<path d="M11 666.5 L11.53 666.07 L12.06 665.57 L12.59 665.8 L13.11 665.54 L13.64 665.01 L14.17 664.33 L14.7 663 L15.05 582 L15.7 667.8 L16.1 671.8 L16.5 671.8 L17.01 671.16 L17.52 670.9 L18.03 670.51 L18.54 670.54 L19.04 670.22 L19.55 669.55 L20.06 669.89 L20.57 669.6 L21.08 669.85 L21.59 669.93 L22.1 669.69 L22.61 669.12 L23.11 669.75 L23.62 669.23 L24.13 670.06 L24.64 669.54 L25.15 669.67 L25.66 670.15 L26.17 669.2 L26.68 669.59 L27.19 669.23 L27.69 669.27 L28.2 668.89 L28.71 668.89 L29.22 668.27 L29.73 668.06 L30.24 667.75 L30.75 666.77 L31.26 667.15 L31.76 666.29 L32.27 665.42 L32.78 665.04 L33.29 664.56 L33.8 663 L34.15 582 L34.8 667.8 L35.2 671.8 L35.6 671.8 L36.11 671.71 L36.61 671.19 L37.12 671.09 L37.63 670.52 L38.13 670.55 L38.64 669.83 L39.15 669.64 L39.65 669.78 L40.16 669.64 L40.67 669.3 L41.17 669.36 L41.68 669.16 L42.19 669.3 L42.69 669.44 L43.2 669.34 L43.71 669.49 L44.21 669.26 L44.72 669.29 L45.23 668.53 L45.73 668.86 L46.24 668.39 L46.75 668.14 L47.25 667.14 L47.76 667.1 L48.27 666.67 L48.77 665.9 L49.28 666.08 L49.79 665.52 L50.29 664.02 L50.8 663 L51.15 582 L51.8 667.8 L52.2 671.8 L52.6 671.8 L53.12 671.22 L53.63 671.49 L54.15 671.35 L54.67 671.12 L55.19 670 L55.7 669.78 L56.22 669.81 L56.74 669.77 L57.26 668.85 L57.77 668.68 L58.29 668.29 L58.81 668.56 L59.33 667.84 L59.84 667.83 L60.36 667.55 L60.88 667.37 L61.4 666.87 L61.91 666.52 L62.43 666.36 L62.95 665.75 L63.47 664.75 L63.98 664.14 L64.5 663 L64.85 582 L65.5 667.8 L65.9 671.8 L66.3 671.8 L66.81 671.38 L67.32 671.24 L67.83 671.81 L68.34 670.79 L68.85 670.82 L69.36 670.74 L69.87 670.51 L70.38 670.85 L70.89 670.68 L71.4 670.49 L71.91 669.97 L72.42 670.5 L72.93 670.21 L73.44 669.84 L73.96 669.02 L74.47 669.57 L74.98 669.17 L75.49 669.12 L76 668.67 L76.51 668.2 L77.02 668.29 L77.53 667.67 L78.04 667.57 L78.55 666.58 L79.06 666.33 L79.57 666.22 L80.08 665.31 L80.59 664.16 L81.1 663 L81.45 582 L82.1 667.8 L82.5 671.8 L82.9 671.8 L83.41 671.5 L83.92 671.39 L84.43 670.94 L84.94 670.79 L85.45 670.5 L85.95 670.01 L86.46 670 L86.97 669.55 L87.48 669 L87.99 668.69 L88.5 668.42 L89.01 667.93 L89.52 667.46 L90.03 667.5 L90.54 667.04 L91.05 666.99 L91.55 666.34 L92.06 666.13 L92.57 665.71 L93.08 664.97 L93.59 664.33 L94.1 663 L94.45 582 L95.1 667.8 L95.5 671.8 L95.9 671.8 L96.41 671.32 L96.92 671.33 L97.43 671 L97.94 670.59 L98.46 670.79 L98.97 670.95 L99.48 669.71 L99.99 670.37 L100.5 669.98 L101.01 670.04 L101.52 669.94 L102.03 669.29 L102.54 669.95 L103.06 669.34 L103.57 669.44 L104.08 669.39 L104.59 668.82 L105.1 668.53 L105.61 667.94 L106.12 667.41 L106.63 667.28 L107.14 666.58 L107.66 666.75 L108.17 665.94 L108.68 665.59 L109.19 664.03 L109.7 663 L110.05 582 L110.7 667.8 L111.1 671.8 L111.5 671.8 L112 670.92 L112.5 670.74 L113 670.79 L113.5 669.94 L114 669.58 L114.5 669.63 L115 669.08 L115.5 668.98 L116 668.63 L116.5 668.13 L117 667.33 L117.5 667.02 L118 667.41 L118.5 666.32 L119 665.93 L119.5 665.24 L120 664.33 L120.5 663 L120.85 582 L121.5 667.8 L121.9 671.8 L122.3 671.8 L122.81 671.34 L123.31 670.59 L123.82 671.18 L124.32 670.37 L124.83 669.7 L125.33 669.81 L125.84 669.49 L126.34 668.59 L126.85 668.47 L127.35 668.62 L127.86 668.02 L128.36 667.62 L128.87 667.38 L129.37 666.7 L129.88 666.22 L130.38 666.21 L130.89 665.13 L131.39 664.3 L131.9 663 L132.25 582 L132.9 667.8 L133.3 671.8 L133.7 671.8 L134.22 671.19 L134.75 671.66 L135.27 670.84 L135.8 670.99 L136.32 670.34 L136.84 669.65 L137.37 669.96 L137.89 669.19 L138.41 668.69 L138.94 668.58 L139.46 667.71 L139.99 668.04 L140.51 667.42 L141.03 667.21 L141.56 666.7 L142.08 666.74 L142.6 666.27 L143.13 665.99 L143.65 665.56 L144.18 664.38 L144.7 663 L145.05 582 L145.7 667.8 L146.1 671.8 L146.5 671.8 L147.01 671.28 L147.53 671.01 L148.05 671 L148.56 670.25 L149.07 669.63 L149.59 669.7 L150.1 669.51 L150.62 669.48 L151.13 668.58 L151.65 668.18 L152.17 668.1 L152.68 667.7 L153.19 667.45 L153.71 666.89 L154.23 666.7 L154.74 666.09 L155.25 666.01 L155.77 665.23 L156.29 664.46 L156.8 663 L157.15 582 L157.8 667.8 L158.2 671.8 L158.6 671.8 L159.11 671.4 L159.63 671.19 L160.14 671.18 L160.65 670.84 L161.17 670.27 L161.68 669.96 L162.2 669.41 L162.71 669.34 L163.22 669.1 L163.74 668.63 L164.25 668.15 L164.76 668.44 L165.28 667.56 L165.79 667.91 L166.3 667.47 L166.82 667.23 L167.33 666.27 L167.85 666.27 L168.36 665.31 L168.87 665 L169.39 663.89 L169.9 663 L170.25 582 L170.9 667.8 L171.3 671.8 L171.7 671.8 L172.2 671.64 L172.7 671.28 L173.21 670.56 L173.71 670.27 L174.21 669.82 L174.71 669.51 L175.22 669.12 L175.72 669.32 L176.22 669.43 L176.72 669.02 L177.23 669.26 L177.73 668.84 L178.23 668.87 L178.73 668.99 L179.24 669.37 L179.74 669.04 L180.24 669.41 L180.74 669.17 L181.25 669.03 L181.75 668.86 L182.25 669.31 L182.75 669.25 L183.26 669.79 L183.76 669.7 L184.26 669.16 L184.76 669.76 L185.27 669.63 L185.77 668.69 L186.27 669.08 L186.77 669.06 L187.28 668.23 L187.78 668.08 L188.28 668.03 L188.78 667.59 L189.29 667.26 L189.79 666.9 L190.29 666.08 L190.79 666.41 L191.3 665.31 L191.8 664.86 L192.3 663 L192.65 582 L193.3 667.8 L193.7 671.8 L194.1 671.8 L194.62 671.61 L195.13 671.19 L195.65 671.01 L196.17 670.7 L196.69 670.55 L197.2 670.13 L197.72 669.76 L198.24 669.58 L198.76 669.52 L199.27 668.88 L199.79 668.72 L200.31 668.31 L200.83 667.48 L201.34 667.45 L201.86 667.14 L202.38 666.72 L202.9 666.6 L203.41 665.97 L203.93 666.12 L204.45 665.48 L204.97 665.37 L205.48 664.36 L206 663 L206.35 582 L207 667.8 L207.4 671.8 L207.8 671.8 L208.31 671.21 L208.82 670.41 L209.33 669.86 L209.84 669.05 L210.35 668.5 L210.85 668.1 L211.36 667.25 L211.87 666.88 L212.38 665.16 L212.89 664.38 L213.4 663 L213.75 582 L214.4 667.8 L214.8 671.8 L215.2 671.8 L215.71 671.8 L216.23 671.42 L216.74 671.18 L217.25 671.04 L217.77 670.51 L218.28 669.98 L218.79 669.79 L219.3 669.27 L219.82 669.1 L220.33 668.95 L220.84 668.44 L221.36 668.29 L221.87 667.86 L222.38 667.34 L222.9 667.01 L223.41 667.24 L223.92 666.75 L224.43 666.62 L224.95 666.02 L225.46 665.61 L225.97 665.12 L226.49 664.17 L227 663 L227.35 582 L228 667.8 L228.4 671.8 L228.8 671.8 L229.3 671.59 L229.8 670.9 L230.3 670.71 L230.8 670.57 L231.3 670.48 L231.8 669.86 L232.3 669.54 L232.8 669.35 L233.3 668.93 L233.8 668.53 L234.3 667.96 L234.8 668.22 L235.3 667.57 L235.8 667.12 L236.3 666.88 L236.8 666.21 L237.3 665.72 L237.8 665.23 L238.3 665.18 L238.8 663.93 L239.3 663 L239.65 582 L240.3 667.8 L240.7 671.8 L241.1 671.8 L241.62 671.02 L242.14 670.97 L242.66 670.6 L243.18 670.27 L243.7 670.54 L244.22 669.82 L244.74 669.28 L245.26 669.3 L245.78 668.66 L246.3 668.71 L246.82 667.67 L247.34 667.99 L247.86 667.09 L248.38 666.82 L248.9 666.68 L249.42 665.95 L249.94 665.33 L250.46 665.04 L250.98 664.23 L251.5 663 L251.85 582 L252.5 667.8 L252.9 671.8 L253.3 671.8 L253.8 670.97 L254.31 670.87 L254.81 670.69 L255.31 670.54 L255.81 670.63 L256.31 669.71 L256.82 670.18 L257.32 670.37 L257.82 670.17 L258.32 670.07 L258.83 669.8 L259.33 670.16 L259.83 669.95 L260.33 670.1 L260.84 669.8 L261.34 669.97 L261.84 670.01 L262.34 669.65 L262.85 670.26 L263.35 669.94 L263.85 669.61 L264.36 669.83 L264.86 669.8 L265.36 669.56 L265.86 669.28 L266.37 669.39 L266.87 669.03 L267.37 668.91 L267.87 669.27 L268.38 669.04 L268.88 668.72 L269.38 668.45 L269.88 667.85 L270.38 666.89 L270.89 666.58 L271.39 666.56 L271.89 665.66 L272.39 665.07 L272.9 664.29 L273.4 663 L273.75 582 L274.4 667.8 L274.8 671.8 L275.2 671.8 L275.71 671.34 L276.23 671.07 L276.74 670.1 L277.26 670.63 L277.77 670.33 L278.28 669.77 L278.8 670.31 L279.31 669.89 L279.82 669.88 L280.34 670.14 L280.85 669.12 L281.37 669.77 L281.88 670.01 L282.39 670.05 L282.91 669.63 L283.42 669.51 L283.93 669.27 L284.45 669.09 L284.96 668.57 L285.48 667.81 L285.99 667.88 L286.5 667.38 L287.02 667.08 L287.53 666.7 L288.04 666.24 L288.56 665.87 L289.07 665.19 L289.59 664.24 L290.1 663 L290.45 582 L291.1 667.8 L291.5 671.8 L291.9 671.8 L292.41 671.36 L292.92 671.05 L293.43 671.07 L293.94 670.43 L294.45 669.91 L294.96 669.14 L295.47 668.93 L295.98 668.19 L296.49 668.8 L297.01 668.49 L297.52 667.75 L298.03 667.37 L298.54 667.22 L299.05 666.85 L299.56 665.84 L300.07 665.71 L300.58 665.08 L301.09 663.99 L301.6 663 L301.95 582 L302.6 667.8 L303 671.8 L303.4 671.8 L303.9 671.3 L304.41 671.18 L304.91 670.84 L305.42 670.7 L305.92 670.62 L306.43 670.9 L306.93 670.59 L307.44 670.43 L307.94 670.28 L308.45 670.42 L308.95 670.05 L309.46 669.77 L309.96 670.05 L310.47 670.4 L310.97 669.74 L311.48 669.86 L311.98 669.69 L312.49 669.95 L312.99 669.67 L313.5 669.15 L314 669.81 L314.5 669.29 L315.01 668.98 L315.51 669 L316.02 669.06 L316.52 669.25 L317.03 668.85 L317.53 668.67 L318.04 669.14 L318.54 669.17 L319.05 668.65 L319.55 668.76 L320.06 668.9 L320.56 668.83 L321.07 668.78 L321.57 669.37 L322.08 668.94 L322.58 668.84 L323.09 668.89 L323.59 668.45 L324.1 667.79 L324.6 667" fill="none" stroke="#111" stroke-width="1.4" stroke-linejoin="round"/>
<path d="M11.9 793.5 L12.4 792.81 L12.9 791.6 L13.4 790.6 L13.9 788.86 L14.4 787.5 L14.75 715.7 L15.4 792 L15.8 796 L16.2 796 L16.71 795.97 L17.22 795.5 L17.72 795.18 L18.23 794.73 L18.74 794.43 L19.25 794.37 L19.76 794.45 L20.27 793.34 L20.77 792.83 L21.28 793.81 L21.79 793.44 L22.3 792.92 L22.81 792.58 L23.32 792.1 L23.82 791.84 L24.33 791.35 L24.84 791.54 L25.35 791.03 L25.86 790.27 L26.37 790.3 L26.88 789.88 L27.38 789.32 L27.89 789.23 L28.4 787.5 L28.75 715.7 L29.4 792 L29.8 796 L30.2 796 L30.71 795.83 L31.21 795.36 L31.72 794.96 L32.23 794.36 L32.74 793.15 L33.24 793.44 L33.75 792.75 L34.26 792.64 L34.76 791.87 L35.27 790.81 L35.78 791.1 L36.29 789.56 L36.79 789.21 L37.3 787.5 L37.65 715.7 L38.3 792 L38.7 796 L39.1 796 L39.62 794.95 L40.14 794.85 L40.66 794.37 L41.19 794.1 L41.71 793.63 L42.23 793.64 L42.75 792.85 L43.27 792.56 L43.79 791.45 L44.31 791.1 L44.84 790.86 L45.36 790.15 L45.88 789.11 L46.4 787.5 L46.75 715.7 L47.4 792 L47.8 796 L48.2 796 L48.72 795.48 L49.25 795.01 L49.77 794.69 L50.3 794.79 L50.82 793.99 L51.35 793.4 L51.88 793.38 L52.4 792.69 L52.92 792.67 L53.45 791.87 L53.98 791.24 L54.5 791.64 L55.02 790.77 L55.55 789.82 L56.08 788.84 L56.6 787.5 L56.95 715.7 L57.6 792 L58 796 L58.4 796 L58.91 795.23 L59.42 795.39 L59.93 795.11 L60.44 794.36 L60.94 794 L61.45 793.95 L61.96 793.58 L62.47 793.5 L62.98 793.38 L63.49 793.27 L64 793.28 L64.51 792.82 L65.02 793.26 L65.52 792.55 L66.03 793.13 L66.54 793.07 L67.05 793.3 L67.56 793.22 L68.07 793.41 L68.58 792.95 L69.09 793.38 L69.6 793.39 L70.1 793.79 L70.61 793.84 L71.12 793.76 L71.63 793.82 L72.14 793.85 L72.65 794 L73.16 794.09 L73.67 794.08 L74.18 793.75 L74.68 793.38 L75.19 793.31 L75.7 793.42 L76.21 792.61 L76.72 792.45 L77.23 791.59 L77.74 792.08 L78.25 791.5 L78.76 790.94 L79.26 790.64 L79.77 790.37 L80.28 789.58 L80.79 788.83 L81.3 787.5 L81.65 715.7 L82.3 792 L82.7 796 L83.1 796 L83.63 794.99 L84.17 795.16 L84.7 794.21 L85.23 794.11 L85.77 793.56 L86.3 792.58 L86.83 791.96 L87.37 791.37 L87.9 791.27 L88.43 790.05 L88.97 788.94 L89.5 787.5 L89.85 715.7 L90.5 792 L90.9 796 L91.3 796 L91.81 795.57 L92.32 794.53 L92.83 794.01 L93.34 793.01 L93.85 792.49 L94.36 791.97 L94.87 790.88 L95.38 789.96 L95.89 789.19 L96.4 787.5 L96.75 715.7 L97.4 792 L97.8 796 L98.2 796 L98.74 795.6 L99.27 794.83 L99.81 794.69 L100.35 793.58 L100.88 792.6 L101.42 792.47 L101.95 791.77 L102.49 791.2 L103.03 789.77 L103.56 789.03 L104.1 787.5 L104.45 715.7 L105.1 792 L105.5 796 L105.9 796 L106.43 795.74 L106.97 794.72 L107.5 794.48 L108.03 793.82 L108.57 793.67 L109.1 792.45 L109.63 792.44 L110.17 791.58 L110.7 790.86 L111.23 789.88 L111.77 788.73 L112.3 787.5 L112.65 715.7 L113.3 792 L113.7 796 L114.1 796 L114.63 795.01 L115.15 795.1 L115.68 794.33 L116.21 793.74 L116.74 793.3 L117.26 792.35 L117.79 791.95 L118.32 790.55 L118.85 790.02 L119.37 789.31 L119.9 787.5 L120.25 715.7 L120.9 792 L121.3 796 L121.7 796 L122.23 795.31 L122.76 794.47 L123.29 794.39 L123.82 793.4 L124.35 792.62 L124.88 791.94 L125.41 790.97 L125.94 790.17 L126.47 789.32 L127 787.5 L127.35 715.7 L128 792 L128.4 796 L128.8 796 L129.3 795.39 L129.8 795.19 L130.3 794.92 L130.8 794.51 L131.3 793.88 L131.8 793.36 L132.3 793.22 L132.8 792.96 L133.3 792.48 L133.8 792.59 L134.3 791.48 L134.8 790.82 L135.3 790.34 L135.8 790 L136.3 788.59 L136.8 787.5 L137.15 715.7 L137.8 792 L138.2 796 L138.6 796 L139.13 795.41 L139.65 795.1 L140.18 794.63 L140.7 793.98 L141.23 793.54 L141.75 792.53 L142.28 792.54 L142.8 791.98 L143.33 790.42 L143.85 789.76 L144.38 789.19 L144.9 787.5 L145.25 715.7 L145.9 792 L146.3 796 L146.7 796 L147.21 795.69 L147.72 795.02 L148.23 794.73 L148.74 794.93 L149.26 794.19 L149.77 793.38 L150.28 793.43 L150.79 793.29 L151.3 792.74 L151.81 792.54 L152.32 792.13 L152.83 791.63 L153.34 790.96 L153.86 790.8 L154.37 790.48 L154.88 789.51 L155.39 789.08 L155.9 787.5 L156.25 715.7 L156.9 792 L157.3 796 L157.7 796 L158.21 796.17 L158.72 795.43 L159.23 795.01 L159.74 795.5 L160.25 794.93 L160.76 794.8 L161.27 795.42 L161.78 795.2 L162.29 794.7 L162.8 794.82 L163.31 794.74 L163.82 794.69 L164.33 793.79 L164.84 793.83 L165.36 793.55 L165.87 793.82 L166.38 793.48 L166.89 793.48 L167.4 793.5 L167.91 792.8 L168.42 792.07 L168.93 791.92 L169.44 791.67 L169.95 790.72 L170.46 791.06 L170.97 790.32 L171.48 789.85 L171.99 789.11 L172.5 787.5 L172.85 715.7 L173.5 792 L173.9 796 L174.3 796 L174.83 795.64 L175.35 794.87 L175.88 794.71 L176.41 794.25 L176.93 794.04 L177.46 793.86 L177.99 792.59 L178.51 792.52 L179.04 791.89 L179.57 791.65 L180.09 791.32 L180.62 790.95 L181.15 789.41 L181.67 788.94 L182.2 787.5 L182.55 715.7 L183.2 792 L183.6 796 L184 796 L184.51 795.89 L185.01 795.2 L185.52 794.98 L186.03 794.26 L186.54 793.09 L187.04 792.93 L187.55 792.75 L188.06 792.16 L188.56 791.63 L189.07 791.51 L189.58 790.3 L190.09 789.9 L190.59 789.15 L191.1 787.5 L191.45 715.7 L192.1 792 L192.5 796 L192.9 796 L193.4 795.5 L193.9 794.96 L194.4 795.25 L194.9 794.09 L195.4 794.01 L195.9 793.17 L196.4 792.7 L196.9 792.55 L197.4 792.34 L197.9 791.54 L198.4 791.22 L198.9 790.45 L199.4 790.07 L199.9 788.92 L200.4 787.5 L200.75 715.7 L201.4 792 L201.8 796 L202.2 796 L202.71 795.76 L203.21 795.31 L203.72 794.82 L204.22 794.59 L204.73 794.1 L205.23 794.16 L205.74 793.46 L206.24 793.32 L206.75 792.6 L207.26 792.51 L207.76 791.6 L208.27 791.45 L208.77 791.52 L209.28 790.85 L209.78 789.74 L210.29 789.54 L210.79 788.74 L211.3 787.5 L211.65 715.7 L212.3 792 L212.7 796 L213.1 796 L213.64 795.22 L214.17 795.22 L214.71 794.09 L215.25 793.81 L215.78 793.16 L216.32 792.16 L216.85 791.76 L217.39 791.02 L217.93 789.87 L218.46 789.1 L219 787.5 L219.35 715.7 L220 792 L220.4 796 L220.8 796 L221.31 795.63 L221.81 795.14 L222.32 794.9 L222.82 794.3 L223.33 794.43 L223.83 793.9 L224.34 793.45 L224.84 793.01 L225.35 792.82 L225.86 792.37 L226.36 791.86 L226.87 791.77 L227.37 791.65 L227.88 791.28 L228.38 790.43 L228.89 789.56 L229.39 789.62 L229.9 787.5 L230.25 715.7 L230.9 792 L231.3 796 L231.7 796 L232.22 795.45 L232.73 795.35 L233.25 794.84 L233.76 794.46 L234.28 794.27 L234.79 793.99 L235.31 793.62 L235.83 793.27 L236.34 792.42 L236.86 792.7 L237.37 792.01 L237.89 791.82 L238.41 791.1 L238.92 791.24 L239.44 790.79 L239.95 790.16 L240.47 789.51 L240.98 788.63 L241.5 787.5 L241.85 714.3 L242.5 792 L242.9 796 L243.3 796 L243.82 795.31 L244.35 795.04 L244.87 794.86 L245.39 794.37 L245.92 794.06 L246.44 793.77 L246.96 793.65 L247.49 793.41 L248.01 792.4 L248.54 792.08 L249.06 791.68 L249.58 791.59 L250.11 791.28 L250.63 790.6 L251.15 789.66 L251.68 788.9 L252.2 787.5 L252.55 714.3 L253.2 792 L253.6 796 L254 796 L254.51 795.6 L255.02 795.01 L255.53 794.88 L256.05 794.83 L256.56 794.12 L257.07 794.01 L257.58 793.62 L258.09 792.92 L258.6 793.46 L259.11 792.85 L259.63 792.65 L260.14 793.1 L260.65 793.01 L261.16 793.08 L261.67 793.05 L262.18 793.28 L262.69 793.09 L263.21 793.38 L263.72 793.39 L264.23 793.05 L264.74 793.5 L265.25 793.64 L265.76 793.63 L266.27 793.3 L266.79 792.92 L267.3 792.99 L267.81 792.37 L268.32 791.68 L268.83 791.83 L269.34 791.23 L269.85 790.77 L270.37 790.23 L270.88 789.02 L271.39 788.15 L271.9 787.5 L272.25 713.3 L272.9 792 L273.3 796 L273.7 796 L274.22 795.73 L274.74 794.84 L275.26 794.99 L275.77 794.76 L276.29 793.65 L276.81 793.37 L277.33 792.77 L277.85 792.47 L278.37 791.81 L278.89 791.65 L279.41 791.5 L279.93 791.01 L280.44 790.63 L280.96 789.99 L281.48 788.75 L282 787.5 L282.35 713.3 L283 792 L283.4 796 L283.8 796 L284.34 794.86 L284.87 794.54 L285.41 794.46 L285.95 793.46 L286.48 793.13 L287.02 792.5 L287.55 792.1 L288.09 790.52 L288.63 789.78 L289.16 788.94 L289.7 787.5 L290.05 713.3 L290.7 792 L291.1 796 L291.5 796 L292.01 795.75 L292.52 794.97 L293.02 794.9 L293.53 793.89 L294.04 793.52 L294.55 793.21 L295.05 792.64 L295.56 791.84 L296.07 791.52 L296.58 790.67 L297.08 789.75 L297.59 788.66 L298.1 787.5 L298.45 713.3 L299.1 792 L299.5 796 L299.9 796 L300.41 795.63 L300.93 795.05 L301.44 794.75 L301.96 793.97 L302.47 793.66 L302.99 793.32 L303.5 792.75 L304.01 792.47 L304.53 791.8 L305.04 791.13 L305.56 790.75 L306.07 790.09 L306.59 789.34 L307.1 787.5 L307.45 713.3 L308.1 792 L308.5 796 L308.9 796 L309.47 795.62 L310.04 794.13 L310.61 793.52 L311.19 792.14 L311.76 790.74 L312.33 789.24 L312.9 787.5 L313.25 713.3 L313.9 792 L314.3 796 L314.7 796 L315.21 795.08 L315.72 794.76 L316.22 794.6 L316.73 794.03 L317.24 793.34 L317.75 792.83 L318.25 792.24 L318.76 791.8 L319.27 791.8 L319.78 790.8 L320.28 790.03 L320.79 789.15 L321.3 787.5 L321.65 713.3 L322.3 792 L322.7 796 L323.1 796 L323.6 795.69 L324.1 794.21 L324.6 794" fill="none" stroke="#8f1a2c" stroke-width="1.35" stroke-linejoin="round"/>
<line x1="374.5" y1="38.5" x2="374.5" y2="180.75" stroke="#000" stroke-width="1.8"/>
<line x1="369" y1="180" x2="374.5" y2="180" stroke="#000" stroke-width="1.6"/>
<text x="366.9" y="183.1" font-size="10" font-weight="bold" text-anchor="end" fill="#000" stroke="#000" stroke-width="0.22">0</text>
<line x1="369" y1="151.85" x2="374.5" y2="151.85" stroke="#000" stroke-width="1.6"/>
<text x="366.9" y="154.95" font-size="10" font-weight="bold" text-anchor="end" fill="#000" stroke="#000" stroke-width="0.22">1</text>
<line x1="369" y1="123.7" x2="374.5" y2="123.7" stroke="#000" stroke-width="1.6"/>
<text x="366.9" y="126.8" font-size="10" font-weight="bold" text-anchor="end" fill="#000" stroke="#000" stroke-width="0.22">2</text>
<line x1="369" y1="95.55" x2="374.5" y2="95.55" stroke="#000" stroke-width="1.6"/>
<text x="366.9" y="98.65" font-size="10" font-weight="bold" text-anchor="end" fill="#000" stroke="#000" stroke-width="0.22">3</text>
<line x1="369" y1="67.4" x2="374.5" y2="67.4" stroke="#000" stroke-width="1.6"/>
<text x="366.9" y="70.5" font-size="10" font-weight="bold" text-anchor="end" fill="#000" stroke="#000" stroke-width="0.22">4</text>
<line x1="369" y1="39.25" x2="374.5" y2="39.25" stroke="#000" stroke-width="1.6"/>
<text x="366.9" y="42.35" font-size="10" font-weight="bold" text-anchor="end" fill="#000" stroke="#000" stroke-width="0.22">5</text>
<line x1="369" y1="180" x2="515" y2="180" stroke="#000" stroke-width="1.8"/>
<text x="349.6" y="109.5" font-size="10" font-weight="bold" text-anchor="middle" fill="#000" stroke="#000" stroke-width="0.22" transform="rotate(-90 349.6 109.5)">Firing Frequency (Hz)</text>
<path d="M396.1 180 V141.9 H434.3 V180" fill="none" stroke="#9a9a9a" stroke-width="3" stroke-linejoin="miter"/>
<line x1="415.2" y1="72.8" x2="475.85" y2="95.3" stroke="#6a6a6a" stroke-width="1.2"/>
<line x1="415.2" y1="110.3" x2="475.85" y2="146.7" stroke="#6a6a6a" stroke-width="1.2"/>
<line x1="415.2" y1="111.2" x2="475.85" y2="151.8" stroke="#6a6a6a" stroke-width="1.2"/>
<line x1="415.2" y1="112" x2="475.85" y2="167.6" stroke="#6a6a6a" stroke-width="1.2"/>
<line x1="415.2" y1="150.6" x2="475.85" y2="151.2" stroke="#6a6a6a" stroke-width="1.2"/>
<line x1="415.2" y1="153.1" x2="475.85" y2="170" stroke="#6a6a6a" stroke-width="1.2"/>
<line x1="415.2" y1="156.1" x2="475.85" y2="172.2" stroke="#6a6a6a" stroke-width="1.2"/>
<line x1="415.2" y1="161.3" x2="475.85" y2="174" stroke="#6a6a6a" stroke-width="1.2"/>
<line x1="415.2" y1="167.5" x2="475.85" y2="176" stroke="#6a6a6a" stroke-width="1.2"/>
<line x1="415.2" y1="175.9" x2="475.85" y2="177" stroke="#6a6a6a" stroke-width="1.2"/>
<circle cx="415.2" cy="72.8" r="2.9" fill="#b2b6b9"/>
<circle cx="415.2" cy="110.3" r="2.9" fill="#b2b6b9"/>
<circle cx="415.2" cy="111.2" r="2.9" fill="#b2b6b9"/>
<circle cx="415.2" cy="112" r="2.9" fill="#b2b6b9"/>
<circle cx="415.2" cy="150.4" r="2.9" fill="#b2b6b9"/>
<circle cx="415.2" cy="153.1" r="2.9" fill="#b2b6b9"/>
<circle cx="415.2" cy="156.1" r="2.9" fill="#b2b6b9"/>
<circle cx="415.2" cy="161.3" r="2.9" fill="#b2b6b9"/>
<circle cx="415.2" cy="167.5" r="2.9" fill="#b2b6b9"/>
<circle cx="415.2" cy="175.9" r="2.9" fill="#b2b6b9"/>
<circle cx="475.85" cy="95.3" r="2.9" fill="#b2b6b9"/>
<circle cx="475.85" cy="146.7" r="2.9" fill="#b2b6b9"/>
<circle cx="475.85" cy="151.4" r="2.9" fill="#b2b6b9"/>
<circle cx="475.85" cy="156.6" r="2.9" fill="#b2b6b9"/>
<circle cx="475.85" cy="167.2" r="2.9" fill="#b2b6b9"/>
<circle cx="475.85" cy="170" r="2.9" fill="#b2b6b9"/>
<circle cx="475.85" cy="173" r="2.9" fill="#b2b6b9"/>
<circle cx="475.85" cy="176.5" r="2.9" fill="#b2b6b9"/>
<path d="M456.6 180 V162.9 H495.1 V180" fill="none" stroke="#000" stroke-width="3" stroke-linejoin="miter"/>
<line x1="415.2" y1="131" x2="415.2" y2="150.8" stroke="#8e8e8e" stroke-width="1.6"/>
<line x1="404.4" y1="131" x2="426" y2="131" stroke="#8e8e8e" stroke-width="1.6"/>
<line x1="404.4" y1="150.8" x2="426" y2="150.8" stroke="#8e8e8e" stroke-width="1.6"/>
<line x1="475.85" y1="154.5" x2="475.85" y2="169.7" stroke="#000" stroke-width="1.6"/>
<line x1="465.05" y1="154.5" x2="486.65" y2="154.5" stroke="#000" stroke-width="1.6"/>
<line x1="465.05" y1="169.7" x2="486.65" y2="169.7" stroke="#000" stroke-width="1.6"/>
<line x1="369.5" y1="180" x2="515" y2="180" stroke="#000" stroke-width="1.8"/>
<line x1="415.2" y1="180" x2="415.2" y2="185.5" stroke="#000" stroke-width="1.8"/>
<line x1="475.85" y1="180" x2="475.85" y2="185.5" stroke="#000" stroke-width="1.8"/>
<path d="M415.1 53 V46 H475.5 V75.5" fill="none" stroke="#000" stroke-width="1.9"/>
<path d="M440.5 34.9L440.5 41.5M437.64 36.55L443.36 39.85M437.64 39.85L443.36 36.55M449.1 34.9L449.1 41.5M446.24 36.55L451.96 39.85M446.24 39.85L451.96 36.55" stroke="#000" stroke-width="1.9" stroke-linecap="round" fill="none"/>
<text x="415.4" y="196.1" font-size="10" font-weight="bold" text-anchor="middle" fill="#000" stroke="#000" stroke-width="0.22">Baseline</text>
<text x="476.4" y="196.1" font-size="10" font-weight="bold" text-anchor="middle" fill="#000" stroke="#000" stroke-width="0.22">RS102221</text>
<text x="476.4" y="207.4" font-size="10" font-weight="bold" text-anchor="middle" fill="#000" stroke="#000" stroke-width="0.22">(5µM)</text>
<line x1="587.3" y1="37.25" x2="587.3" y2="180.45" stroke="#000" stroke-width="1.8"/>
<line x1="581.3" y1="179.7" x2="587.3" y2="179.7" stroke="#000" stroke-width="1.6"/>
<text x="579" y="182.8" font-size="10" font-weight="bold" text-anchor="end" fill="#000" stroke="#000" stroke-width="0.22">0</text>
<line x1="581.3" y1="132.46" x2="587.3" y2="132.46" stroke="#000" stroke-width="1.6"/>
<text x="579" y="135.56" font-size="10" font-weight="bold" text-anchor="end" fill="#000" stroke="#000" stroke-width="0.22">50</text>
<line x1="581.3" y1="85.23" x2="587.3" y2="85.23" stroke="#000" stroke-width="1.6"/>
<text x="579" y="88.33" font-size="10" font-weight="bold" text-anchor="end" fill="#000" stroke="#000" stroke-width="0.22">100</text>
<line x1="581.3" y1="38" x2="587.3" y2="38" stroke="#000" stroke-width="1.6"/>
<text x="579" y="41.1" font-size="10" font-weight="bold" text-anchor="end" fill="#000" stroke="#000" stroke-width="0.22">150</text>
<line x1="581.3" y1="179.7" x2="681.6" y2="179.7" stroke="#000" stroke-width="1.8"/>
<text x="552" y="108.3" font-size="10" font-weight="bold" text-anchor="middle" fill="#000" stroke="#000" stroke-width="0.22" transform="rotate(-90 552 108.3)">Firing Frequency (%Baseline)</text>
<line x1="591.2" y1="85.2" x2="682.2" y2="85.2" stroke="#000" stroke-width="2.1" stroke-dasharray="2 2.944"/>
<path d="M612 179.7 V153.8 H657.5 V179.7" fill="none" stroke="#000" stroke-width="3" stroke-linejoin="miter"/>
<line x1="634.75" y1="144.9" x2="634.75" y2="159.7" stroke="#000" stroke-width="1.6"/>
<line x1="623.05" y1="144.9" x2="646.45" y2="144.9" stroke="#000" stroke-width="1.6"/>
<line x1="623.05" y1="159.7" x2="646.45" y2="159.7" stroke="#000" stroke-width="1.6"/>
<circle cx="634.6" cy="89.7" r="2.8" fill="#000"/>
<circle cx="623.2" cy="131.4" r="2.8" fill="#000"/>
<circle cx="634.6" cy="134.7" r="2.8" fill="#000"/>
<circle cx="623.2" cy="144.6" r="2.8" fill="#000"/>
<circle cx="634.6" cy="145.9" r="2.8" fill="#000"/>
<circle cx="646" cy="144.9" r="2.8" fill="#000"/>
<circle cx="640.3" cy="162.4" r="2.8" fill="#000"/>
<circle cx="628.8" cy="165.8" r="2.8" fill="#000"/>
<circle cx="646" cy="172.6" r="2.8" fill="#000"/>
<circle cx="623.2" cy="178.9" r="2.8" fill="#000"/>
<circle cx="634.6" cy="176.6" r="2.8" fill="#000"/>
<circle cx="646" cy="179.3" r="2.8" fill="#000"/>
<line x1="634.75" y1="179.7" x2="634.75" y2="185.4" stroke="#000" stroke-width="1.8"/>
<line x1="616.9" y1="47.1" x2="652.5" y2="47.1" stroke="#000" stroke-width="1.9"/>
<path d="M621.7 34.9L621.7 41.5M618.84 36.55L624.56 39.85M618.84 39.85L624.56 36.55M630.4 34.9L630.4 41.5M627.54 36.55L633.26 39.85M627.54 39.85L633.26 36.55M639.1 34.9L639.1 41.5M636.24 36.55L641.96 39.85M636.24 39.85L641.96 36.55M647.8 34.9L647.8 41.5M644.94 36.55L650.66 39.85M644.94 39.85L650.66 36.55" stroke="#000" stroke-width="1.9" stroke-linecap="round" fill="none"/>
<text x="636" y="196.8" font-size="10" font-weight="bold" text-anchor="middle" fill="#000" stroke="#000" stroke-width="0.22">RS102221</text>
<text x="635.1" y="208.2" font-size="10" font-weight="bold" text-anchor="middle" fill="#000" stroke="#000" stroke-width="0.22">(5µM)</text>
<line x1="374" y1="233.95" x2="374" y2="375.45" stroke="#000" stroke-width="1.8"/>
<line x1="368.5" y1="374.7" x2="374" y2="374.7" stroke="#000" stroke-width="1.6"/>
<text x="366.4" y="377.8" font-size="10" font-weight="bold" text-anchor="end" fill="#000" stroke="#000" stroke-width="0.22">0</text>
<line x1="368.5" y1="346.7" x2="374" y2="346.7" stroke="#000" stroke-width="1.6"/>
<text x="366.4" y="349.8" font-size="10" font-weight="bold" text-anchor="end" fill="#000" stroke="#000" stroke-width="0.22">1</text>
<line x1="368.5" y1="318.7" x2="374" y2="318.7" stroke="#000" stroke-width="1.6"/>
<text x="366.4" y="321.8" font-size="10" font-weight="bold" text-anchor="end" fill="#000" stroke="#000" stroke-width="0.22">2</text>
<line x1="368.5" y1="290.7" x2="374" y2="290.7" stroke="#000" stroke-width="1.6"/>
<text x="366.4" y="293.8" font-size="10" font-weight="bold" text-anchor="end" fill="#000" stroke="#000" stroke-width="0.22">3</text>
<line x1="368.5" y1="262.7" x2="374" y2="262.7" stroke="#000" stroke-width="1.6"/>
<text x="366.4" y="265.8" font-size="10" font-weight="bold" text-anchor="end" fill="#000" stroke="#000" stroke-width="0.22">4</text>
<line x1="368.5" y1="234.7" x2="374" y2="234.7" stroke="#000" stroke-width="1.6"/>
<text x="366.4" y="237.8" font-size="10" font-weight="bold" text-anchor="end" fill="#000" stroke="#000" stroke-width="0.22">5</text>
<line x1="368.5" y1="374.7" x2="514.5" y2="374.7" stroke="#000" stroke-width="1.8"/>
<text x="349.6" y="304.5" font-size="10" font-weight="bold" text-anchor="middle" fill="#000" stroke="#000" stroke-width="0.22" transform="rotate(-90 349.6 304.5)">Firing Frequency (Hz)</text>
<line x1="414" y1="289.9" x2="474.45" y2="285.9" stroke="#6a6a6a" stroke-width="1.2"/>
<line x1="414" y1="346.3" x2="474.45" y2="300.2" stroke="#6a6a6a" stroke-width="1.2"/>
<line x1="414" y1="346.3" x2="474.45" y2="341.9" stroke="#6a6a6a" stroke-width="1.2"/>
<line x1="414" y1="371" x2="474.45" y2="328.8" stroke="#6a6a6a" stroke-width="1.2"/>
<line x1="414" y1="369.5" x2="474.45" y2="348" stroke="#6a6a6a" stroke-width="1.2"/>
<line x1="414" y1="367.5" x2="474.45" y2="362" stroke="#6a6a6a" stroke-width="1.2"/>
<line x1="414" y1="370" x2="474.45" y2="364.8" stroke="#6a6a6a" stroke-width="1.2"/>
<line x1="414" y1="371.5" x2="474.45" y2="367.5" stroke="#6a6a6a" stroke-width="1.2"/>
<line x1="414" y1="372" x2="474.45" y2="370" stroke="#6a6a6a" stroke-width="1.2"/>
<line x1="414" y1="372.5" x2="474.45" y2="372" stroke="#6a6a6a" stroke-width="1.2"/>
<circle cx="414" cy="289.9" r="2.9" fill="#808080"/>
<circle cx="414" cy="346.3" r="2.9" fill="#808080"/>
<circle cx="414" cy="348.5" r="2.9" fill="#808080"/>
<circle cx="414" cy="367.5" r="2.9" fill="#808080"/>
<circle cx="414" cy="369.5" r="2.9" fill="#808080"/>
<circle cx="414" cy="371" r="2.9" fill="#808080"/>
<circle cx="414" cy="372.2" r="2.9" fill="#808080"/>
<circle cx="474.45" cy="285.9" r="2.9" fill="#808080"/>
<circle cx="474.45" cy="300.2" r="2.9" fill="#808080"/>
<circle cx="474.45" cy="328.8" r="2.9" fill="#808080"/>
<circle cx="474.45" cy="341.9" r="2.9" fill="#808080"/>
<circle cx="474.45" cy="348" r="2.9" fill="#808080"/>
<circle cx="474.45" cy="362" r="2.9" fill="#808080"/>
<circle cx="474.45" cy="364.8" r="2.9" fill="#808080"/>
<circle cx="474.45" cy="367.5" r="2.9" fill="#808080"/>
<circle cx="474.45" cy="370" r="2.9" fill="#808080"/>
<circle cx="474.45" cy="372" r="2.9" fill="#808080"/>
<path d="M394.9 374.7 V360.4 H433.1 V374.7" fill="none" stroke="#000" stroke-width="3" stroke-linejoin="miter"/>
<path d="M455.4 374.7 V348.7 H493.5 V374.7" fill="none" stroke="#96191b" stroke-width="3" stroke-linejoin="miter"/>
<line x1="414" y1="352.1" x2="414" y2="366.9" stroke="#000" stroke-width="1.6"/>
<line x1="403.5" y1="352.1" x2="424.5" y2="352.1" stroke="#000" stroke-width="1.6"/>
<line x1="403.5" y1="366.9" x2="424.5" y2="366.9" stroke="#000" stroke-width="1.6"/>
<line x1="474.45" y1="338.4" x2="474.45" y2="356.9" stroke="#96191b" stroke-width="1.6"/>
<line x1="463.95" y1="338.4" x2="484.95" y2="338.4" stroke="#96191b" stroke-width="1.6"/>
<line x1="463.95" y1="356.9" x2="484.95" y2="356.9" stroke="#96191b" stroke-width="1.6"/>
<line x1="369" y1="374.7" x2="514.5" y2="374.7" stroke="#000" stroke-width="1.8"/>
<line x1="414" y1="374.7" x2="414" y2="380.2" stroke="#000" stroke-width="1.8"/>
<line x1="474.45" y1="374.7" x2="474.45" y2="380.2" stroke="#000" stroke-width="1.8"/>
<path d="M413.8 284.1 V273 H474.8 V281" fill="none" stroke="#000" stroke-width="1.9"/>
<path d="M435.1 260.9L435.1 267.5M432.24 262.55L437.96 265.85M432.24 265.85L437.96 262.55M443.7 260.9L443.7 267.5M440.84 262.55L446.56 265.85M440.84 265.85L446.56 262.55M452.3 260.9L452.3 267.5M449.44 262.55L455.16 265.85M449.44 265.85L455.16 262.55" stroke="#000" stroke-width="1.9" stroke-linecap="round" fill="none"/>
<text x="407.9" y="390.8" font-size="10" font-weight="bold" text-anchor="middle" fill="#000" stroke="#000" stroke-width="0.22">RS102221</text>
<text x="408.6" y="403.2" font-size="10" font-weight="bold" text-anchor="middle" fill="#000" stroke="#000" stroke-width="0.22">(5µM)</text>
<text x="480.9" y="390.8" font-size="10.2" font-weight="bold" text-anchor="middle" fill="#000" stroke="#000" stroke-width="0.22">RS102221 (5µM)</text>
<text x="479.6" y="403.2" font-size="10.2" font-weight="bold" text-anchor="middle" fill="#000" stroke="#000" stroke-width="0.22">+ Psilocin (10µM)</text>
<line x1="587.5" y1="234.35" x2="587.5" y2="377.15" stroke="#000" stroke-width="1.8"/>
<line x1="581.5" y1="376.4" x2="587.5" y2="376.4" stroke="#000" stroke-width="1.6"/>
<text x="579.2" y="379.5" font-size="10" font-weight="bold" text-anchor="end" fill="#000" stroke="#000" stroke-width="0.22">0</text>
<line x1="581.5" y1="329.3" x2="587.5" y2="329.3" stroke="#000" stroke-width="1.6"/>
<text x="579.2" y="332.4" font-size="10" font-weight="bold" text-anchor="end" fill="#000" stroke="#000" stroke-width="0.22">200</text>
<line x1="581.5" y1="282.2" x2="587.5" y2="282.2" stroke="#000" stroke-width="1.6"/>
<text x="579.2" y="285.3" font-size="10" font-weight="bold" text-anchor="end" fill="#000" stroke="#000" stroke-width="0.22">400</text>
<line x1="581.5" y1="235.1" x2="587.5" y2="235.1" stroke="#000" stroke-width="1.6"/>
<text x="579.2" y="238.2" font-size="10" font-weight="bold" text-anchor="end" fill="#000" stroke="#000" stroke-width="0.22">600</text>
<line x1="581.5" y1="376.4" x2="681.9" y2="376.4" stroke="#000" stroke-width="1.8"/>
<text x="552" y="307" font-size="10" font-weight="bold" text-anchor="middle" fill="#000" stroke="#000" stroke-width="0.22" transform="rotate(-90 552 307)">Firing Frequency (%Baseline)</text>
<line x1="591.3" y1="352.9" x2="681.3" y2="352.9" stroke="#000" stroke-width="2.1" stroke-dasharray="2 2.889"/>
<path d="M612 376.4 V323.4 H656.5 V376.4" fill="none" stroke="#000" stroke-width="3" stroke-linejoin="miter"/>
<line x1="634.25" y1="312.7" x2="634.25" y2="332.3" stroke="#000" stroke-width="1.6"/>
<line x1="622.25" y1="312.7" x2="646.25" y2="312.7" stroke="#000" stroke-width="1.6"/>
<line x1="622.25" y1="332.3" x2="646.25" y2="332.3" stroke="#000" stroke-width="1.6"/>
<circle cx="634.2" cy="254.7" r="2.8" fill="#000"/>
<circle cx="634.2" cy="290.5" r="2.8" fill="#000"/>
<circle cx="634.2" cy="305.7" r="2.8" fill="#000"/>
<circle cx="622.8" cy="326.6" r="2.8" fill="#000"/>
<circle cx="634.2" cy="330.4" r="2.8" fill="#000"/>
<circle cx="622.8" cy="334.6" r="2.8" fill="#000"/>
<circle cx="645.7" cy="334.6" r="2.8" fill="#000"/>
<circle cx="634.2" cy="344.1" r="2.8" fill="#000"/>
<circle cx="622.8" cy="351.4" r="2.8" fill="#000"/>
<circle cx="645.7" cy="348.9" r="2.8" fill="#000"/>
<line x1="634.25" y1="376.4" x2="634.25" y2="382.1" stroke="#000" stroke-width="1.8"/>
<line x1="629.1" y1="246.5" x2="639.4" y2="246.5" stroke="#000" stroke-width="1.9"/>
<path d="M634.2 233.4L634.2 240M631.34 235.05L637.06 238.35M631.34 238.35L637.06 235.05" stroke="#000" stroke-width="1.9" stroke-linecap="round" fill="none"/>
<text x="634.1" y="392.2" font-size="10.35" font-weight="bold" text-anchor="middle" fill="#000" stroke="#000" stroke-width="0.22">RS102221 (5µM)</text>
<text x="633.2" y="403.6" font-size="10.35" font-weight="bold" text-anchor="middle" fill="#000" stroke="#000" stroke-width="0.22">+ Psilocin (10µM)</text>
<line x1="373.7" y1="447.6" x2="373.7" y2="589.35" stroke="#000" stroke-width="1.8"/>
<line x1="368.2" y1="588.6" x2="373.7" y2="588.6" stroke="#000" stroke-width="1.6"/>
<text x="366.1" y="591.7" font-size="10" font-weight="bold" text-anchor="end" fill="#000" stroke="#000" stroke-width="0.22">0</text>
<line x1="368.2" y1="560.55" x2="373.7" y2="560.55" stroke="#000" stroke-width="1.6"/>
<text x="366.1" y="563.65" font-size="10" font-weight="bold" text-anchor="end" fill="#000" stroke="#000" stroke-width="0.22">1</text>
<line x1="368.2" y1="532.5" x2="373.7" y2="532.5" stroke="#000" stroke-width="1.6"/>
<text x="366.1" y="535.6" font-size="10" font-weight="bold" text-anchor="end" fill="#000" stroke="#000" stroke-width="0.22">2</text>
<line x1="368.2" y1="504.45" x2="373.7" y2="504.45" stroke="#000" stroke-width="1.6"/>
<text x="366.1" y="507.55" font-size="10" font-weight="bold" text-anchor="end" fill="#000" stroke="#000" stroke-width="0.22">3</text>
<line x1="368.2" y1="476.4" x2="373.7" y2="476.4" stroke="#000" stroke-width="1.6"/>
<text x="366.1" y="479.5" font-size="10" font-weight="bold" text-anchor="end" fill="#000" stroke="#000" stroke-width="0.22">4</text>
<line x1="368.2" y1="448.35" x2="373.7" y2="448.35" stroke="#000" stroke-width="1.6"/>
<text x="366.1" y="451.45" font-size="10" font-weight="bold" text-anchor="end" fill="#000" stroke="#000" stroke-width="0.22">5</text>
<line x1="368.2" y1="588.6" x2="514.5" y2="588.6" stroke="#000" stroke-width="1.8"/>
<text x="350.2" y="518.5" font-size="10" font-weight="bold" text-anchor="middle" fill="#000" stroke="#000" stroke-width="0.22" transform="rotate(-90 350.2 518.5)">Firing Frequency (Hz)</text>
<path d="M395.3 588.6 V522.5 H432.9 V588.6" fill="none" stroke="#9a9a9a" stroke-width="3" stroke-linejoin="miter"/>
<line x1="414.1" y1="475.9" x2="474.35" y2="521.7" stroke="#6a6a6a" stroke-width="1.2"/>
<line x1="414.1" y1="474.5" x2="474.35" y2="547.2" stroke="#6a6a6a" stroke-width="1.2"/>
<line x1="414.1" y1="483" x2="474.35" y2="566.9" stroke="#6a6a6a" stroke-width="1.2"/>
<line x1="414.1" y1="521.7" x2="474.35" y2="512.1" stroke="#6a6a6a" stroke-width="1.2"/>
<line x1="414.1" y1="522.5" x2="474.35" y2="555.7" stroke="#6a6a6a" stroke-width="1.2"/>
<line x1="414.1" y1="549.6" x2="474.35" y2="575.2" stroke="#6a6a6a" stroke-width="1.2"/>
<line x1="414.1" y1="552" x2="474.35" y2="581.2" stroke="#6a6a6a" stroke-width="1.2"/>
<line x1="414.1" y1="554.7" x2="474.35" y2="587.2" stroke="#6a6a6a" stroke-width="1.2"/>
<line x1="414.1" y1="560.8" x2="474.35" y2="587.2" stroke="#6a6a6a" stroke-width="1.2"/>
<circle cx="414.1" cy="473" r="2.9" fill="#808080"/>
<circle cx="414.1" cy="475.9" r="2.9" fill="#808080"/>
<circle cx="414.1" cy="483" r="2.9" fill="#808080"/>
<circle cx="414.1" cy="520.1" r="2.9" fill="#808080"/>
<circle cx="414.1" cy="523.3" r="2.9" fill="#808080"/>
<circle cx="414.1" cy="549.6" r="2.9" fill="#808080"/>
<circle cx="414.1" cy="552" r="2.9" fill="#808080"/>
<circle cx="414.1" cy="554.7" r="2.9" fill="#808080"/>
<circle cx="414.1" cy="560.8" r="2.9" fill="#808080"/>
<circle cx="474.35" cy="512.1" r="2.9" fill="#808080"/>
<circle cx="474.35" cy="521.7" r="2.9" fill="#808080"/>
<circle cx="474.35" cy="547.2" r="2.9" fill="#808080"/>
<circle cx="474.35" cy="555.7" r="2.9" fill="#808080"/>
<circle cx="474.35" cy="566.9" r="2.9" fill="#808080"/>
<circle cx="474.35" cy="575.2" r="2.9" fill="#808080"/>
<circle cx="474.35" cy="581.2" r="2.9" fill="#808080"/>
<circle cx="474.35" cy="587.2" r="2.9" fill="#808080"/>
<path d="M455.7 588.6 V561.1 H493 V588.6" fill="none" stroke="#000" stroke-width="3" stroke-linejoin="miter"/>
<line x1="414.1" y1="509.4" x2="414.1" y2="533" stroke="#8e8e8e" stroke-width="1.6"/>
<line x1="403.4" y1="509.4" x2="424.8" y2="509.4" stroke="#8e8e8e" stroke-width="1.6"/>
<line x1="403.4" y1="533" x2="424.8" y2="533" stroke="#8e8e8e" stroke-width="1.6"/>
<line x1="474.35" y1="550.1" x2="474.35" y2="568.7" stroke="#000" stroke-width="1.6"/>
<line x1="463.65" y1="550.1" x2="485.05" y2="550.1" stroke="#000" stroke-width="1.6"/>
<line x1="463.65" y1="568.7" x2="485.05" y2="568.7" stroke="#000" stroke-width="1.6"/>
<line x1="368.7" y1="588.6" x2="514.5" y2="588.6" stroke="#000" stroke-width="1.8"/>
<line x1="414.1" y1="588.6" x2="414.1" y2="594.1" stroke="#000" stroke-width="1.8"/>
<line x1="474.35" y1="588.6" x2="474.35" y2="594.1" stroke="#000" stroke-width="1.8"/>
<path d="M413.8 466 V457 H474.8 V495.7" fill="none" stroke="#000" stroke-width="1.9"/>
<path d="M439.95 446.8L439.95 453.4M437.09 448.45L442.81 451.75M437.09 451.75L442.81 448.45M448.05 446.8L448.05 453.4M445.19 448.45L450.91 451.75M445.19 451.75L450.91 448.45" stroke="#000" stroke-width="1.9" stroke-linecap="round" fill="none"/>
<text x="413.5" y="604.5" font-size="10.6" font-weight="bold" text-anchor="middle" fill="#000" stroke="#000" stroke-width="0.22">Baseline</text>
<text x="472.8" y="604.5" font-size="10.6" font-weight="bold" text-anchor="middle" fill="#000" stroke="#000" stroke-width="0.22">RS102221</text>
<text x="472.8" y="615.9" font-size="10.6" font-weight="bold" text-anchor="middle" fill="#000" stroke="#000" stroke-width="0.22">(5µM)</text>
<line x1="584.9" y1="447.86" x2="584.9" y2="587.85" stroke="#000" stroke-width="1.8"/>
<line x1="578.9" y1="587.1" x2="584.9" y2="587.1" stroke="#000" stroke-width="1.6"/>
<text x="576.6" y="590.2" font-size="10" font-weight="bold" text-anchor="end" fill="#000" stroke="#000" stroke-width="0.22">0</text>
<line x1="578.9" y1="540.94" x2="584.9" y2="540.94" stroke="#000" stroke-width="1.6"/>
<text x="576.6" y="544.04" font-size="10" font-weight="bold" text-anchor="end" fill="#000" stroke="#000" stroke-width="0.22">50</text>
<line x1="578.9" y1="494.77" x2="584.9" y2="494.77" stroke="#000" stroke-width="1.6"/>
<text x="576.6" y="497.87" font-size="10" font-weight="bold" text-anchor="end" fill="#000" stroke="#000" stroke-width="0.22">100</text>
<line x1="578.9" y1="448.61" x2="584.9" y2="448.61" stroke="#000" stroke-width="1.6"/>
<text x="576.6" y="451.71" font-size="10" font-weight="bold" text-anchor="end" fill="#000" stroke="#000" stroke-width="0.22">150</text>
<line x1="578.9" y1="587.1" x2="677.4" y2="587.1" stroke="#000" stroke-width="1.8"/>
<text x="549.5" y="518" font-size="10" font-weight="bold" text-anchor="middle" fill="#000" stroke="#000" stroke-width="0.22" transform="rotate(-90 549.5 518)">Firing Frequency (%Baseline)</text>
<line x1="588.9" y1="494.7" x2="674.4" y2="494.7" stroke="#000" stroke-width="2.1" stroke-dasharray="2 2.912"/>
<path d="M609.4 587.1 V552.6 H653.4 V587.1" fill="none" stroke="#000" stroke-width="3" stroke-linejoin="miter"/>
<line x1="631.4" y1="540.4" x2="631.4" y2="562.7" stroke="#000" stroke-width="1.6"/>
<line x1="618.8" y1="540.4" x2="644" y2="540.4" stroke="#000" stroke-width="1.6"/>
<line x1="618.8" y1="562.7" x2="644" y2="562.7" stroke="#000" stroke-width="1.6"/>
<circle cx="631.1" cy="477.1" r="2.8" fill="#000"/>
<circle cx="631.1" cy="531.9" r="2.8" fill="#000"/>
<circle cx="631.1" cy="542.7" r="2.8" fill="#000"/>
<circle cx="625.4" cy="554.1" r="2.8" fill="#000"/>
<circle cx="636.8" cy="554.1" r="2.8" fill="#000"/>
<circle cx="625.4" cy="569" r="2.8" fill="#000"/>
<circle cx="636.8" cy="565.2" r="2.8" fill="#000"/>
<circle cx="636.8" cy="581.7" r="2.8" fill="#000"/>
<circle cx="625.4" cy="586.9" r="2.8" fill="#000"/>
<line x1="631.4" y1="587.1" x2="631.4" y2="592.8" stroke="#000" stroke-width="1.8"/>
<line x1="617.3" y1="458.6" x2="646.6" y2="458.6" stroke="#000" stroke-width="1.9"/>
<path d="M621.2 446.6L621.2 453.2M618.34 448.25L624.06 451.55M618.34 451.55L624.06 448.25M631.6 446.6L631.6 453.2M628.74 448.25L634.46 451.55M628.74 451.55L634.46 448.25M642 446.6L642 453.2M639.14 448.25L644.86 451.55M639.14 451.55L644.86 448.25" stroke="#000" stroke-width="1.9" stroke-linecap="round" fill="none"/>
<text x="631.9" y="603.9" font-size="10.5" font-weight="bold" text-anchor="middle" fill="#000" stroke="#000" stroke-width="0.22">RS102221</text>
<text x="631.8" y="615.4" font-size="10.5" font-weight="bold" text-anchor="middle" fill="#000" stroke="#000" stroke-width="0.22">(5µM)</text>
<line x1="373.7" y1="642.5" x2="373.7" y2="783.75" stroke="#000" stroke-width="1.8"/>
<line x1="368.2" y1="783" x2="373.7" y2="783" stroke="#000" stroke-width="1.6"/>
<text x="366.1" y="786.1" font-size="10" font-weight="bold" text-anchor="end" fill="#000" stroke="#000" stroke-width="0.22">0</text>
<line x1="368.2" y1="755.05" x2="373.7" y2="755.05" stroke="#000" stroke-width="1.6"/>
<text x="366.1" y="758.15" font-size="10" font-weight="bold" text-anchor="end" fill="#000" stroke="#000" stroke-width="0.22">1</text>
<line x1="368.2" y1="727.1" x2="373.7" y2="727.1" stroke="#000" stroke-width="1.6"/>
<text x="366.1" y="730.2" font-size="10" font-weight="bold" text-anchor="end" fill="#000" stroke="#000" stroke-width="0.22">2</text>
<line x1="368.2" y1="699.15" x2="373.7" y2="699.15" stroke="#000" stroke-width="1.6"/>
<text x="366.1" y="702.25" font-size="10" font-weight="bold" text-anchor="end" fill="#000" stroke="#000" stroke-width="0.22">3</text>
<line x1="368.2" y1="671.2" x2="373.7" y2="671.2" stroke="#000" stroke-width="1.6"/>
<text x="366.1" y="674.3" font-size="10" font-weight="bold" text-anchor="end" fill="#000" stroke="#000" stroke-width="0.22">4</text>
<line x1="368.2" y1="643.25" x2="373.7" y2="643.25" stroke="#000" stroke-width="1.6"/>
<text x="366.1" y="646.35" font-size="10" font-weight="bold" text-anchor="end" fill="#000" stroke="#000" stroke-width="0.22">5</text>
<line x1="368.2" y1="783" x2="513" y2="783" stroke="#000" stroke-width="1.8"/>
<text x="350.2" y="713" font-size="10" font-weight="bold" text-anchor="middle" fill="#000" stroke="#000" stroke-width="0.22" transform="rotate(-90 350.2 713)">Firing Frequency (Hz)</text>
<line x1="413.55" y1="707.6" x2="473.5" y2="690.9" stroke="#6a6a6a" stroke-width="1.2"/>
<line x1="413.55" y1="717.3" x2="473.5" y2="687.7" stroke="#6a6a6a" stroke-width="1.2"/>
<line x1="413.55" y1="742.3" x2="473.5" y2="705.4" stroke="#6a6a6a" stroke-width="1.2"/>
<line x1="413.55" y1="750.7" x2="473.5" y2="707.6" stroke="#6a6a6a" stroke-width="1.2"/>
<line x1="413.55" y1="774" x2="473.5" y2="746.2" stroke="#6a6a6a" stroke-width="1.2"/>
<line x1="413.55" y1="761.9" x2="473.5" y2="760.3" stroke="#6a6a6a" stroke-width="1.2"/>
<line x1="413.55" y1="769.6" x2="473.5" y2="766.7" stroke="#6a6a6a" stroke-width="1.2"/>
<line x1="413.55" y1="772.8" x2="473.5" y2="771.2" stroke="#6a6a6a" stroke-width="1.2"/>
<line x1="413.55" y1="781.5" x2="473.5" y2="776" stroke="#6a6a6a" stroke-width="1.2"/>
<line x1="413.55" y1="781.5" x2="473.5" y2="782" stroke="#6a6a6a" stroke-width="1.2"/>
<circle cx="413.55" cy="707.6" r="2.9" fill="#808080"/>
<circle cx="413.55" cy="717.3" r="2.9" fill="#808080"/>
<circle cx="413.55" cy="742.3" r="2.9" fill="#808080"/>
<circle cx="413.55" cy="750.7" r="2.9" fill="#808080"/>
<circle cx="413.55" cy="761.9" r="2.9" fill="#808080"/>
<circle cx="413.55" cy="769.6" r="2.9" fill="#808080"/>
<circle cx="413.55" cy="772.8" r="2.9" fill="#808080"/>
<circle cx="413.55" cy="775.6" r="2.9" fill="#808080"/>
<circle cx="413.55" cy="781.5" r="2.9" fill="#808080"/>
<circle cx="473.5" cy="687.7" r="2.9" fill="#808080"/>
<circle cx="473.5" cy="690.9" r="2.9" fill="#808080"/>
<circle cx="473.5" cy="705.4" r="2.9" fill="#808080"/>
<circle cx="473.5" cy="707.6" r="2.9" fill="#808080"/>
<circle cx="473.5" cy="746.2" r="2.9" fill="#808080"/>
<circle cx="473.5" cy="760.3" r="2.9" fill="#808080"/>
<circle cx="473.5" cy="766.7" r="2.9" fill="#808080"/>
<circle cx="473.5" cy="771.2" r="2.9" fill="#808080"/>
<circle cx="473.5" cy="776" r="2.9" fill="#808080"/>
<circle cx="473.5" cy="782" r="2.9" fill="#808080"/>
<path d="M394.9 783 V757.4 H432.2 V783" fill="none" stroke="#000" stroke-width="3" stroke-linejoin="miter"/>
<path d="M454.5 783 V739.9 H492.5 V783" fill="none" stroke="#96191b" stroke-width="3" stroke-linejoin="miter"/>
<line x1="413.55" y1="747.6" x2="413.55" y2="764.8" stroke="#000" stroke-width="1.6"/>
<line x1="403.25" y1="747.6" x2="423.85" y2="747.6" stroke="#000" stroke-width="1.6"/>
<line x1="403.25" y1="764.8" x2="423.85" y2="764.8" stroke="#000" stroke-width="1.6"/>
<line x1="473.5" y1="727.4" x2="473.5" y2="750.9" stroke="#96191b" stroke-width="1.6"/>
<line x1="463.2" y1="727.4" x2="483.8" y2="727.4" stroke="#96191b" stroke-width="1.6"/>
<line x1="463.2" y1="750.9" x2="483.8" y2="750.9" stroke="#96191b" stroke-width="1.6"/>
<line x1="368.7" y1="783" x2="513" y2="783" stroke="#000" stroke-width="1.8"/>
<line x1="413.55" y1="783" x2="413.55" y2="788.5" stroke="#000" stroke-width="1.8"/>
<line x1="473.5" y1="783" x2="473.5" y2="788.5" stroke="#000" stroke-width="1.8"/>
<path d="M413.4 683.2 V655.2 H474.5 V663.6" fill="none" stroke="#000" stroke-width="1.9"/>
<path d="M439.8 643.1L439.8 649.7M436.94 644.75L442.66 648.05M436.94 648.05L442.66 644.75M448 643.1L448 649.7M445.14 644.75L450.86 648.05M445.14 648.05L450.86 644.75" stroke="#000" stroke-width="1.9" stroke-linecap="round" fill="none"/>
<text x="403.5" y="800.4" font-size="10" font-weight="bold" text-anchor="middle" fill="#000" stroke="#000" stroke-width="0.22">RS102221</text>
<text x="403.9" y="811.6" font-size="10" font-weight="bold" text-anchor="middle" fill="#000" stroke="#000" stroke-width="0.22">(5µM)</text>
<text x="483.5" y="800.4" font-size="10.2" font-weight="bold" text-anchor="middle" fill="#000" stroke="#000" stroke-width="0.22">RS102221 (5µM) +</text>
<text x="482.8" y="811.6" font-size="10.2" font-weight="bold" text-anchor="middle" fill="#000" stroke="#000" stroke-width="0.22">NBOH-2C-CN (200nM)</text>
<line x1="584.4" y1="641.95" x2="584.4" y2="783.25" stroke="#000" stroke-width="1.8"/>
<line x1="578.4" y1="782.5" x2="584.4" y2="782.5" stroke="#000" stroke-width="1.6"/>
<text x="576.1" y="785.6" font-size="10" font-weight="bold" text-anchor="end" fill="#000" stroke="#000" stroke-width="0.22">0</text>
<line x1="578.4" y1="735.9" x2="584.4" y2="735.9" stroke="#000" stroke-width="1.6"/>
<text x="576.1" y="739" font-size="10" font-weight="bold" text-anchor="end" fill="#000" stroke="#000" stroke-width="0.22">200</text>
<line x1="578.4" y1="689.3" x2="584.4" y2="689.3" stroke="#000" stroke-width="1.6"/>
<text x="576.1" y="692.4" font-size="10" font-weight="bold" text-anchor="end" fill="#000" stroke="#000" stroke-width="0.22">400</text>
<line x1="578.4" y1="642.7" x2="584.4" y2="642.7" stroke="#000" stroke-width="1.6"/>
<text x="576.1" y="645.8" font-size="10" font-weight="bold" text-anchor="end" fill="#000" stroke="#000" stroke-width="0.22">600</text>
<line x1="578.4" y1="782.5" x2="678.4" y2="782.5" stroke="#000" stroke-width="1.8"/>
<text x="549.5" y="713" font-size="10" font-weight="bold" text-anchor="middle" fill="#000" stroke="#000" stroke-width="0.22" transform="rotate(-90 549.5 713)">Firing Frequency (%Baseline)</text>
<line x1="589.1" y1="759.7" x2="674.7" y2="759.7" stroke="#000" stroke-width="2.1" stroke-dasharray="2 2.918"/>
<path d="M609.65 782.5 V730.9 H654.15 V782.5" fill="none" stroke="#000" stroke-width="3" stroke-linejoin="miter"/>
<line x1="631.9" y1="718" x2="631.9" y2="742.3" stroke="#000" stroke-width="1.6"/>
<line x1="619.2" y1="718" x2="644.6" y2="718" stroke="#000" stroke-width="1.6"/>
<line x1="619.2" y1="742.3" x2="644.6" y2="742.3" stroke="#000" stroke-width="1.6"/>
<circle cx="632.1" cy="663.8" r="2.8" fill="#000"/>
<circle cx="632.1" cy="673.9" r="2.8" fill="#000"/>
<circle cx="632.1" cy="729" r="2.8" fill="#000"/>
<circle cx="632.1" cy="738.5" r="2.8" fill="#000"/>
<circle cx="615.4" cy="749.4" r="2.8" fill="#000"/>
<circle cx="626.4" cy="752.2" r="2.8" fill="#000"/>
<circle cx="637.8" cy="754.5" r="2.8" fill="#000"/>
<circle cx="648.8" cy="754.5" r="2.8" fill="#000"/>
<circle cx="615.4" cy="757" r="2.8" fill="#000"/>
<line x1="631.9" y1="782.5" x2="631.9" y2="788.2" stroke="#000" stroke-width="1.8"/>
<line x1="624.9" y1="654.8" x2="639.1" y2="654.8" stroke="#000" stroke-width="1.9"/>
<path d="M632.1 643.4L632.1 650M629.24 645.05L634.96 648.35M629.24 648.35L634.96 645.05" stroke="#000" stroke-width="1.9" stroke-linecap="round" fill="none"/>
<text x="632" y="799.7" font-size="10.3" font-weight="bold" text-anchor="middle" fill="#000" stroke="#000" stroke-width="0.22">RS102221 (5µM) +</text>
<text x="632.5" y="811" font-size="10.3" font-weight="bold" text-anchor="middle" fill="#000" stroke="#000" stroke-width="0.22">NBOH-2C-CN (200nM)</text>
</svg>
</body></html>
